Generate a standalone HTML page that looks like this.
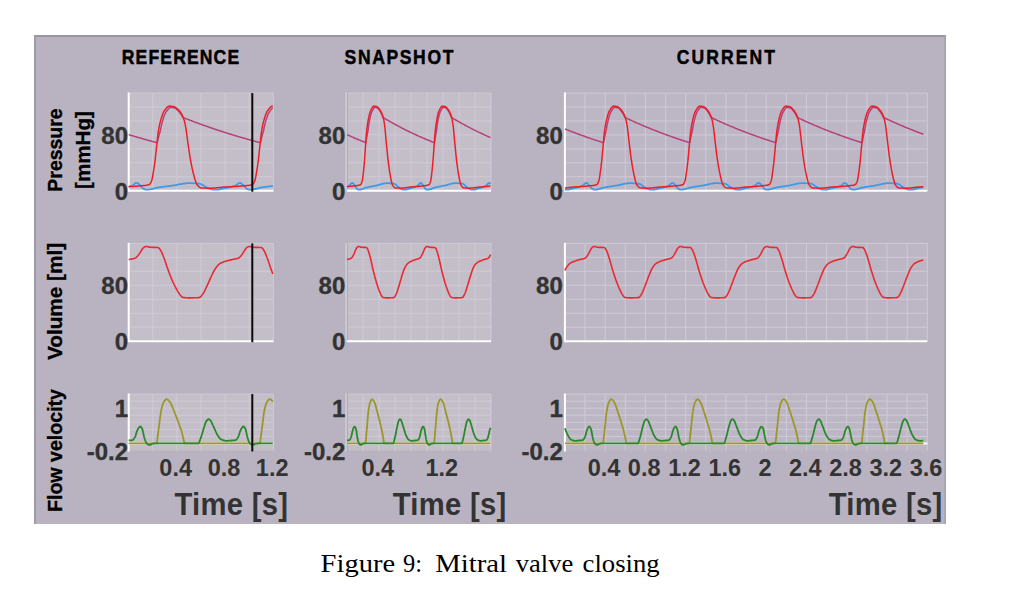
<!DOCTYPE html>
<html><head><meta charset="utf-8"><style>
html,body{margin:0;padding:0;background:#fff;width:1024px;height:595px;overflow:hidden;position:relative}
</style></head><body>
<svg width="1024" height="595" viewBox="0 0 1024 595" style="position:absolute;left:0;top:0">
<rect x="34" y="35" width="912" height="489" fill="#b9b3c1"/>
<rect x="34" y="35" width="912" height="2" fill="#9896a1"/>
<rect x="34" y="35" width="2" height="489" fill="#9e9ca7"/>
<rect x="944.5" y="35" width="1.5" height="489" fill="#a19fa9"/>
<rect x="128.7" y="93.1" width="144.7" height="97.6" fill="#c4bec9"/>
<path d="M152.8 93.1V190.7M176.9 93.1V190.7M201.0 93.1V190.7M225.2 93.1V190.7M249.3 93.1V190.7M273.4 93.1V190.7M128.7 93.1H273.4M128.7 107.0H273.4M128.7 121.0H273.4M128.7 134.9H273.4M128.7 148.9H273.4M128.7 162.8H273.4M128.7 176.8H273.4" stroke="#d0cad6" stroke-width="1" fill="none"/>
<path d="M128.7 92.5V191.7" stroke="#ffffff" stroke-width="2" fill="none"/>
<path d="M128.7 190.7H273.4" stroke="#ffffff" stroke-width="2" fill="none"/>
<polyline points="128.7,186.9 129.2,186.7 129.7,186.6 130.2,186.4 130.7,186.2 131.2,186.0 131.7,185.8 132.2,185.6 132.7,185.3 133.2,185.0 133.7,184.6 134.2,184.1 134.7,183.7 135.2,183.3 135.7,183.0 136.2,182.9 136.7,182.8 137.2,182.9 137.7,183.2 138.2,183.5 138.7,183.9 139.2,184.4 139.7,184.8 140.2,185.2 140.7,185.7 141.2,186.3 141.7,186.9 142.2,187.5 142.7,188.1 143.2,188.6 143.7,188.9 144.2,189.1 144.7,189.3 145.2,189.5 145.7,189.6 146.2,189.7 146.6,189.7 147.1,189.7 147.6,189.7 148.1,189.6 148.6,189.6 149.1,189.5 149.6,189.4 150.1,189.3 150.6,189.3 151.1,189.2 151.6,189.1 152.1,189.0 152.6,188.8 153.1,188.7 153.6,188.6 154.1,188.4 154.6,188.3 155.1,188.2 155.6,188.0 156.1,187.9 156.6,187.8 157.1,187.7 157.6,187.6 158.1,187.5 158.6,187.5 159.1,187.4 159.6,187.3 160.1,187.2 160.6,187.1 161.1,187.1 161.6,187.0 162.1,186.9 162.6,186.9 163.1,186.8 163.6,186.7 164.1,186.6 164.6,186.6 165.1,186.5 165.6,186.5 166.1,186.4 166.6,186.3 167.1,186.3 167.6,186.2 168.1,186.1 168.6,186.1 169.1,186.0 169.6,186.0 170.1,185.9 170.6,185.8 171.1,185.8 171.6,185.7 172.1,185.6 172.6,185.6 173.1,185.5 173.6,185.4 174.1,185.3 174.6,185.3 175.1,185.2 175.6,185.1 176.1,185.0 176.6,184.9 177.1,184.8 177.6,184.7 178.1,184.6 178.6,184.5 179.1,184.4 179.6,184.3 180.1,184.2 180.6,184.1 181.1,184.0 181.6,184.0 182.1,183.9 182.5,183.8 183.0,183.7 183.5,183.6 184.0,183.5 184.5,183.5 185.0,183.4 185.5,183.4 186.0,183.3 186.5,183.3 187.0,183.2 187.5,183.2 188.0,183.2 188.5,183.2 189.0,183.2 189.5,183.2 190.0,183.2 190.5,183.2 191.0,183.2 191.5,183.2 192.0,183.2 192.5,183.2 193.0,183.2 193.5,183.3 194.0,183.3 194.5,183.3 195.0,183.3 195.5,183.4 196.0,183.4 196.5,183.4 197.0,183.5 197.5,183.5 198.0,183.5 198.5,183.6 199.0,183.6 199.5,183.7 200.0,183.8 200.5,184.0 201.0,184.2 201.5,184.4 202.0,184.6 202.5,184.9 203.0,185.2 203.5,185.5 204.0,185.8 204.5,186.1 205.0,186.4 205.5,186.7 206.0,187.0 206.5,187.3 207.0,187.5 207.5,187.7 208.0,187.9 208.5,188.1 209.0,188.3 209.5,188.6 210.0,188.8 210.5,189.0 211.0,189.1 211.5,189.3 212.0,189.4 212.5,189.5 213.0,189.6 213.5,189.6 214.0,189.6 214.5,189.6 215.0,189.6 215.5,189.6 216.0,189.7 216.5,189.7 217.0,189.7 217.5,189.6 218.0,189.6 218.4,189.5 218.9,189.5 219.4,189.4 219.9,189.3 220.4,189.2 220.9,189.0 221.4,188.9 221.9,188.8 222.4,188.7 222.9,188.5 223.4,188.4 223.9,188.3 224.4,188.2 224.9,188.1 225.4,188.0 225.9,187.9 226.4,187.8 226.9,187.8 227.4,187.7 227.9,187.6 228.4,187.5 228.9,187.5 229.4,187.4 229.9,187.3 230.4,187.2 230.9,187.1 231.4,187.0 231.9,186.9 232.4,186.7 232.9,186.6 233.4,186.4 233.9,186.2 234.4,186.0 234.9,185.8 235.4,185.6 235.9,185.3 236.4,185.0 236.9,184.6 237.4,184.2 237.9,183.7 238.4,183.4 238.9,183.1 239.4,182.9 239.9,182.8 240.4,182.9 240.9,183.2 241.4,183.5 241.9,183.9 242.4,184.4 242.9,184.8 243.4,185.2 243.9,185.7 244.4,186.3 244.9,186.9 245.4,187.5 245.9,188.1 246.4,188.6 246.9,188.9 247.4,189.1 247.9,189.3 248.4,189.5 248.9,189.6 249.4,189.7 249.9,189.7 250.4,189.7 250.9,189.7 251.4,189.6 251.9,189.6 252.4,189.5 252.9,189.4 253.4,189.3 253.9,189.3 254.3,189.2 254.8,189.1 255.3,189.0 255.8,188.8 256.3,188.7 256.8,188.6 257.3,188.4 257.8,188.3 258.3,188.2 258.8,188.0 259.3,187.9 259.8,187.8 260.3,187.7 260.8,187.6 261.3,187.5 261.8,187.5 262.3,187.4 262.8,187.3 263.3,187.2 263.8,187.1 264.3,187.1 264.8,187.0 265.3,186.9 265.8,186.9 266.3,186.8 266.8,186.7 267.3,186.7 267.8,186.6 268.3,186.5 268.8,186.5 269.3,186.4 269.8,186.3 270.3,186.3 270.8,186.2 271.3,186.1 271.8,186.1 272.3,186.0 272.8,186.0" fill="none" stroke="#3d9be9" stroke-width="1.8" stroke-linejoin="round"/>
<polyline points="128.7,134.6 129.2,134.8 129.7,134.9 130.2,135.1 130.7,135.2 131.2,135.4 131.7,135.5 132.2,135.7 132.7,135.8 133.2,136.0 133.7,136.1 134.2,136.3 134.7,136.4 135.2,136.6 135.7,136.7 136.2,136.9 136.7,137.0 137.2,137.2 137.7,137.3 138.2,137.5 138.7,137.6 139.2,137.7 139.7,137.9 140.2,138.0 140.7,138.2 141.2,138.3 141.7,138.5 142.2,138.6 142.7,138.7 143.2,138.9 143.7,139.0 144.2,139.2 144.7,139.3 145.2,139.4 145.7,139.6 146.2,139.7 146.6,139.9 147.1,140.0 147.6,140.1 148.1,140.3 148.6,140.4 149.1,140.5 149.6,140.7 150.1,140.8 150.6,141.0 151.1,141.1 151.6,141.2 152.1,141.4 152.6,141.5 153.1,141.6 153.6,141.8 154.1,141.9 154.6,142.0 155.1,142.2 155.6,142.3 156.1,142.4 156.6,142.5 157.1,142.7 157.6,141.3 158.1,139.1 158.6,137.0 159.1,135.0 159.6,133.3 160.1,131.8 160.6,129.4 161.1,126.9 161.6,124.6 162.1,122.6 162.6,120.8 163.1,119.1 163.6,117.6 164.1,116.1 164.6,114.8 165.1,113.7 165.6,112.7 166.1,111.9 166.6,111.2 167.1,110.6 167.6,109.9 168.1,109.3 168.6,108.7 169.1,108.2 169.6,107.8 170.1,107.5 170.6,107.4 171.1,107.4 171.6,107.4 172.1,107.5 172.6,107.5 173.1,107.6 173.6,107.7 174.1,107.8 174.6,107.9 175.1,108.1 175.6,108.4 176.1,108.8 176.6,109.2 177.1,109.7 177.6,110.2 178.1,110.7 178.6,111.2 179.1,111.8 179.6,112.4 180.1,113.0 180.6,113.7 181.1,114.4 181.6,115.2 182.1,116.1 182.5,117.0 183.0,117.5 183.5,117.7 184.0,117.9 184.5,118.1 185.0,118.3 185.5,118.5 186.0,118.7 186.5,118.9 187.0,119.1 187.5,119.3 188.0,119.5 188.5,119.6 189.0,119.8 189.5,120.0 190.0,120.2 190.5,120.4 191.0,120.6 191.5,120.8 192.0,121.0 192.5,121.2 193.0,121.4 193.5,121.6 194.0,121.7 194.5,121.9 195.0,122.1 195.5,122.3 196.0,122.5 196.5,122.7 197.0,122.9 197.5,123.0 198.0,123.2 198.5,123.4 199.0,123.6 199.5,123.8 200.0,124.0 200.5,124.1 201.0,124.3 201.5,124.5 202.0,124.7 202.5,124.9 203.0,125.0 203.5,125.2 204.0,125.4 204.5,125.6 205.0,125.7 205.5,125.9 206.0,126.1 206.5,126.3 207.0,126.5 207.5,126.6 208.0,126.8 208.5,127.0 209.0,127.1 209.5,127.3 210.0,127.5 210.5,127.7 211.0,127.8 211.5,128.0 212.0,128.2 212.5,128.3 213.0,128.5 213.5,128.7 214.0,128.9 214.5,129.0 215.0,129.2 215.5,129.4 216.0,129.5 216.5,129.7 217.0,129.9 217.5,130.0 218.0,130.2 218.4,130.3 218.9,130.5 219.4,130.7 219.9,130.8 220.4,131.0 220.9,131.2 221.4,131.3 221.9,131.5 222.4,131.6 222.9,131.8 223.4,132.0 223.9,132.1 224.4,132.3 224.9,132.4 225.4,132.6 225.9,132.8 226.4,132.9 226.9,133.1 227.4,133.2 227.9,133.4 228.4,133.5 228.9,133.7 229.4,133.9 229.9,134.0 230.4,134.2 230.9,134.3 231.4,134.5 231.9,134.6 232.4,134.8 232.9,134.9 233.4,135.1 233.9,135.2 234.4,135.4 234.9,135.5 235.4,135.7 235.9,135.8 236.4,136.0 236.9,136.1 237.4,136.3 237.9,136.4 238.4,136.6 238.9,136.7 239.4,136.9 239.9,137.0 240.4,137.2 240.9,137.3 241.4,137.4 241.9,137.6 242.4,137.7 242.9,137.9 243.4,138.0 243.9,138.2 244.4,138.3 244.9,138.5 245.4,138.6 245.9,138.7 246.4,138.9 246.9,139.0 247.4,139.2 247.9,139.3 248.4,139.4 248.9,139.6 249.4,139.7 249.9,139.9 250.4,140.0 250.9,140.1 251.4,140.3 251.9,140.4 252.4,140.5 252.9,140.7 253.4,140.8 253.9,140.9 254.3,141.1 254.8,141.2 255.3,141.4 255.8,141.5 256.3,141.6 256.8,141.8 257.3,141.9 257.8,142.0 258.3,142.2 258.8,142.3 259.3,142.4 259.8,142.5 260.3,142.7 260.8,141.4 261.3,139.1 261.8,137.0 262.3,135.0 262.8,133.3 263.3,131.8 263.8,129.5 264.3,126.9 264.8,124.6 265.3,122.6 265.8,120.8 266.3,119.2 266.8,117.6 267.3,116.2 267.8,114.8 268.3,113.7 268.8,112.7 269.3,112.0 269.8,111.3 270.3,110.6 270.8,109.9 271.3,109.3 271.8,108.8 272.3,108.2 272.8,107.8" fill="none" stroke="#b5427a" stroke-width="1.5" stroke-linejoin="round"/>
<polyline points="128.7,186.7 129.2,186.6 129.7,186.6 130.2,186.6 130.7,186.5 131.2,186.5 131.7,186.5 132.2,186.5 132.7,186.4 133.2,186.4 133.7,186.4 134.2,186.3 134.7,186.3 135.2,186.3 135.7,186.2 136.2,186.2 136.7,186.2 137.2,186.1 137.7,186.1 138.2,186.0 138.7,186.0 139.2,186.0 139.7,185.9 140.2,185.9 140.7,185.8 141.2,185.8 141.7,185.7 142.2,185.7 142.7,185.7 143.2,185.6 143.7,185.6 144.2,185.5 144.7,185.5 145.2,185.4 145.7,185.4 146.2,185.3 146.6,185.2 147.1,185.1 147.6,185.0 148.1,184.9 148.6,184.8 149.1,184.6 149.6,184.3 150.1,183.7 150.6,182.9 151.1,182.0 151.6,180.9 152.1,179.1 152.6,176.5 153.1,173.6 153.6,170.6 154.1,167.5 154.6,164.1 155.1,160.3 155.6,155.9 156.1,151.2 156.6,146.6 157.1,142.0 157.6,137.3 158.1,133.1 158.6,129.9 159.1,127.2 159.6,124.7 160.1,122.5 160.6,120.6 161.1,118.9 161.6,117.3 162.1,115.7 162.6,114.4 163.1,113.1 163.6,112.0 164.1,111.1 164.6,110.4 165.1,109.7 165.6,109.0 166.1,108.4 166.6,107.8 167.1,107.3 167.6,106.9 168.1,106.5 168.6,106.3 169.1,106.2 169.6,106.1 170.1,106.2 170.6,106.2 171.1,106.2 171.6,106.3 172.1,106.4 172.6,106.4 173.1,106.5 173.6,106.6 174.1,106.8 174.6,107.0 175.1,107.2 175.6,107.5 176.1,107.9 176.6,108.3 177.1,108.7 177.6,109.2 178.1,109.6 178.6,110.1 179.1,110.6 179.6,111.1 180.1,111.7 180.6,112.4 181.1,113.1 181.6,113.9 182.1,114.8 182.5,115.8 183.0,116.8 183.5,118.2 184.0,119.7 184.5,121.5 185.0,123.6 185.5,125.9 186.0,128.9 186.5,132.5 187.0,136.2 187.5,140.0 188.0,143.5 188.5,146.9 189.0,150.4 189.5,153.7 190.0,156.9 190.5,159.8 191.0,162.5 191.5,165.1 192.0,167.6 192.5,169.9 193.0,172.0 193.5,174.0 194.0,175.8 194.5,177.7 195.0,179.4 195.5,181.1 196.0,182.5 196.5,183.7 197.0,184.6 197.5,185.2 198.0,185.7 198.5,186.3 199.0,186.7 199.5,187.2 200.0,187.5 200.5,187.7 201.0,187.9 201.5,187.9 202.0,188.0 202.5,188.0 203.0,188.0 203.5,188.0 204.0,188.1 204.5,188.1 205.0,188.1 205.5,188.1 206.0,188.1 206.5,188.2 207.0,188.2 207.5,188.2 208.0,188.2 208.5,188.2 209.0,188.2 209.5,188.2 210.0,188.2 210.5,188.2 211.0,188.2 211.5,188.2 212.0,188.1 212.5,188.1 213.0,188.1 213.5,188.1 214.0,188.0 214.5,188.0 215.0,188.0 215.5,187.9 216.0,187.9 216.5,187.8 217.0,187.8 217.5,187.7 218.0,187.7 218.4,187.6 218.9,187.6 219.4,187.5 219.9,187.5 220.4,187.4 220.9,187.4 221.4,187.3 221.9,187.3 222.4,187.2 222.9,187.2 223.4,187.1 223.9,187.1 224.4,187.1 224.9,187.0 225.4,187.0 225.9,186.9 226.4,186.9 226.9,186.9 227.4,186.9 227.9,186.8 228.4,186.8 228.9,186.8 229.4,186.8 229.9,186.8 230.4,186.7 230.9,186.7 231.4,186.7 231.9,186.7 232.4,186.6 232.9,186.6 233.4,186.6 233.9,186.5 234.4,186.5 234.9,186.5 235.4,186.5 235.9,186.4 236.4,186.4 236.9,186.4 237.4,186.3 237.9,186.3 238.4,186.3 238.9,186.2 239.4,186.2 239.9,186.2 240.4,186.1 240.9,186.1 241.4,186.0 241.9,186.0 242.4,186.0 242.9,185.9 243.4,185.9 243.9,185.8 244.4,185.8 244.9,185.7 245.4,185.7 245.9,185.7 246.4,185.6 246.9,185.6 247.4,185.5 247.9,185.5 248.4,185.4 248.9,185.4 249.4,185.3 249.9,185.2 250.4,185.1 250.9,185.0 251.4,184.9 251.9,184.8 252.4,184.6 252.9,184.3 253.4,183.7 253.9,182.9 254.3,182.0 254.8,180.9 255.3,179.1 255.8,176.6 256.3,173.6 256.8,170.7 257.3,167.6 257.8,164.2 258.3,160.4 258.8,156.0 259.3,151.3 259.8,146.6 260.3,142.0 260.8,137.4 261.3,133.2 261.8,130.0 262.3,127.2 262.8,124.7 263.3,122.5 263.8,120.6 264.3,118.9 264.8,117.3 265.3,115.8 265.8,114.4 266.3,113.1 266.8,112.0 267.3,111.1 267.8,110.4 268.3,109.7 268.8,109.1 269.3,108.4 269.8,107.8 270.3,107.3 270.8,106.9 271.3,106.5 271.8,106.3 272.3,106.2 272.8,106.1" fill="none" stroke="#ec1f28" stroke-width="1.5" stroke-linejoin="round"/>
<rect x="128.7" y="243.4" width="144.7" height="97.8" fill="#c4bec9"/>
<path d="M152.8 243.4V341.2M176.9 243.4V341.2M201.0 243.4V341.2M225.2 243.4V341.2M249.3 243.4V341.2M273.4 243.4V341.2M128.7 243.4H273.4M128.7 257.4H273.4M128.7 271.3H273.4M128.7 285.3H273.4M128.7 299.3H273.4M128.7 313.3H273.4M128.7 327.2H273.4" stroke="#d0cad6" stroke-width="1" fill="none"/>
<path d="M128.7 242.8V342.2" stroke="#ffffff" stroke-width="2" fill="none"/>
<path d="M128.7 341.2H273.4" stroke="#ffffff" stroke-width="2" fill="none"/>
<polyline points="128.7,259.6 129.2,259.5 129.7,259.4 130.2,259.3 130.7,259.2 131.2,259.1 131.7,259.0 132.2,258.9 132.7,258.8 133.2,258.7 133.7,258.6 134.2,258.5 134.7,258.3 135.2,258.1 135.7,257.9 136.2,257.5 136.7,257.1 137.2,256.5 137.7,255.9 138.2,255.3 138.7,254.6 139.2,253.9 139.7,253.2 140.2,252.4 140.7,251.6 141.2,250.8 141.7,250.0 142.2,249.2 142.7,248.5 143.2,247.9 143.7,247.6 144.2,247.2 144.7,246.9 145.2,246.6 145.7,246.5 146.2,246.5 146.6,246.5 147.1,246.6 147.6,246.7 148.1,246.8 148.6,246.9 149.1,247.0 149.6,247.2 150.1,247.2 150.6,247.3 151.1,247.3 151.6,247.4 152.1,247.4 152.6,247.4 153.1,247.4 153.6,247.4 154.1,247.4 154.6,247.4 155.1,247.4 155.6,247.5 156.1,247.5 156.6,247.5 157.1,247.5 157.6,247.5 158.1,247.6 158.6,247.7 159.1,248.2 159.6,248.8 160.1,249.5 160.6,250.3 161.1,251.1 161.6,252.1 162.1,253.2 162.6,254.4 163.1,255.7 163.6,257.0 164.1,258.2 164.6,259.6 165.1,261.0 165.6,262.5 166.1,264.0 166.6,265.5 167.1,267.0 167.6,268.5 168.1,269.9 168.6,271.2 169.1,272.6 169.6,273.9 170.1,275.2 170.6,276.4 171.1,277.7 171.6,278.9 172.1,280.1 172.6,281.2 173.1,282.4 173.6,283.4 174.1,284.5 174.6,285.5 175.1,286.5 175.6,287.5 176.1,288.4 176.6,289.3 177.1,290.2 177.6,291.1 178.1,291.9 178.6,292.8 179.1,293.5 179.6,294.2 180.1,294.9 180.6,295.5 181.1,296.1 181.6,296.7 182.1,297.1 182.5,297.3 183.0,297.4 183.5,297.5 184.0,297.6 184.5,297.6 185.0,297.7 185.5,297.7 186.0,297.8 186.5,297.8 187.0,297.8 187.5,297.9 188.0,297.9 188.5,297.9 189.0,297.9 189.5,297.9 190.0,297.9 190.5,297.9 191.0,297.9 191.5,297.9 192.0,297.9 192.5,297.9 193.0,297.8 193.5,297.8 194.0,297.8 194.5,297.8 195.0,297.8 195.5,297.8 196.0,297.7 196.5,297.7 197.0,297.7 197.5,297.7 198.0,297.6 198.5,297.6 199.0,297.6 199.5,297.5 200.0,297.3 200.5,296.9 201.0,296.4 201.5,295.8 202.0,295.1 202.5,294.4 203.0,293.8 203.5,293.0 204.0,292.1 204.5,291.1 205.0,290.1 205.5,289.0 206.0,288.0 206.5,286.9 207.0,285.8 207.5,284.8 208.0,283.7 208.5,282.6 209.0,281.4 209.5,280.3 210.0,279.2 210.5,278.1 211.0,277.0 211.5,276.0 212.0,275.0 212.5,273.9 213.0,272.9 213.5,271.9 214.0,270.9 214.5,270.0 215.0,269.1 215.5,268.3 216.0,267.7 216.5,267.0 217.0,266.4 217.5,265.8 218.0,265.3 218.4,264.8 218.9,264.4 219.4,264.0 219.9,263.6 220.4,263.3 220.9,263.1 221.4,262.8 221.9,262.6 222.4,262.4 222.9,262.2 223.4,262.0 223.9,261.8 224.4,261.6 224.9,261.5 225.4,261.3 225.9,261.2 226.4,261.0 226.9,260.9 227.4,260.7 227.9,260.6 228.4,260.5 228.9,260.3 229.4,260.2 229.9,260.1 230.4,260.0 230.9,259.9 231.4,259.7 231.9,259.6 232.4,259.5 232.9,259.4 233.4,259.3 233.9,259.2 234.4,259.1 234.9,259.0 235.4,258.9 235.9,258.8 236.4,258.7 236.9,258.6 237.4,258.5 237.9,258.3 238.4,258.1 238.9,257.9 239.4,257.5 239.9,257.1 240.4,256.5 240.9,255.9 241.4,255.3 241.9,254.6 242.4,254.0 242.9,253.2 243.4,252.4 243.9,251.6 244.4,250.8 244.9,250.0 245.4,249.2 245.9,248.5 246.4,248.0 246.9,247.6 247.4,247.2 247.9,246.9 248.4,246.6 248.9,246.5 249.4,246.5 249.9,246.5 250.4,246.6 250.9,246.7 251.4,246.8 251.9,246.9 252.4,247.0 252.9,247.2 253.4,247.2 253.9,247.3 254.3,247.3 254.8,247.4 255.3,247.4 255.8,247.4 256.3,247.4 256.8,247.4 257.3,247.4 257.8,247.4 258.3,247.4 258.8,247.5 259.3,247.5 259.8,247.5 260.3,247.5 260.8,247.5 261.3,247.6 261.8,247.7 262.3,248.1 262.8,248.8 263.3,249.5 263.8,250.3 264.3,251.1 264.8,252.1 265.3,253.2 265.8,254.4 266.3,255.7 266.8,257.0 267.3,258.2 267.8,259.6 268.3,261.0 268.8,262.4 269.3,263.9 269.8,265.4 270.3,267.0 270.8,268.4 271.3,269.9 271.8,271.2 272.3,272.5 272.8,273.9" fill="none" stroke="#e82a32" stroke-width="1.6" stroke-linejoin="round"/>
<rect x="128.7" y="394.1" width="144.7" height="56.4" fill="#c4bec9"/>
<path d="M152.8 394.1V450.5M176.9 394.1V450.5M201.0 394.1V450.5M225.2 394.1V450.5M249.3 394.1V450.5M273.4 394.1V450.5M128.7 394.1H273.4M128.7 401.2H273.4M128.7 408.2H273.4M128.7 415.2H273.4M128.7 422.3H273.4M128.7 429.4H273.4M128.7 436.4H273.4M128.7 443.4H273.4" stroke="#d0cad6" stroke-width="1" fill="none"/>
<path d="M128.7 393.5V451.5" stroke="#ffffff" stroke-width="2" fill="none"/>
<path d="M128.7 443.4H273.4" stroke="#ffffff" stroke-width="2" fill="none"/>
<polyline points="128.7,443.4 129.2,443.4 129.7,443.4 130.2,443.4 130.7,443.4 131.2,443.4 131.7,443.4 132.2,443.4 132.7,443.4 133.2,443.4 133.7,443.4 134.2,443.4 134.7,443.4 135.2,443.4 135.7,443.4 136.2,443.4 136.7,443.4 137.2,443.4 137.7,443.4 138.2,443.4 138.7,443.4 139.2,443.4 139.7,443.4 140.2,443.4 140.7,443.4 141.2,443.4 141.7,443.4 142.2,443.4 142.7,443.4 143.2,443.4 143.7,443.4 144.2,443.4 144.7,443.4 145.2,443.4 145.7,443.4 146.2,443.4 146.6,443.4 147.1,443.4 147.6,443.4 148.1,443.4 148.6,443.4 149.1,443.4 149.6,443.4 150.1,443.4 150.6,443.4 151.1,443.4 151.6,443.4 152.1,443.4 152.6,443.4 153.1,443.4 153.6,443.4 154.1,443.4 154.6,443.4 155.1,443.4 155.6,443.4 156.1,443.4 156.6,443.4 157.1,441.5 157.6,437.2 158.1,433.2 158.6,429.4 159.1,425.6 159.6,421.6 160.1,417.5 160.6,413.8 161.1,410.8 161.6,408.5 162.1,406.4 162.6,404.7 163.1,403.3 163.6,402.3 164.1,401.5 164.6,400.7 165.1,400.1 165.6,399.6 166.1,399.3 166.6,399.2 167.1,399.3 167.6,399.6 168.1,400.0 168.6,400.4 169.1,401.0 169.6,401.6 170.1,402.2 170.6,402.9 171.1,403.8 171.6,404.9 172.1,406.1 172.6,407.4 173.1,408.7 173.6,410.0 174.1,411.3 174.6,412.5 175.1,413.8 175.6,415.0 176.1,416.3 176.6,417.6 177.1,418.9 177.6,420.2 178.1,421.5 178.6,422.9 179.1,424.3 179.6,425.7 180.1,427.0 180.6,428.4 181.1,429.9 181.6,431.4 182.1,433.1 182.5,435.0 183.0,437.0 183.5,439.2 184.0,441.6 184.5,443.4 185.0,443.4 185.5,443.4 186.0,443.4 186.5,443.4 187.0,443.4 187.5,443.4 188.0,443.4 188.5,443.4 189.0,443.4 189.5,443.4 190.0,443.4 190.5,443.4 191.0,443.4 191.5,443.4 192.0,443.4 192.5,443.4 193.0,443.4 193.5,443.4 194.0,443.4 194.5,443.4 195.0,443.4 195.5,443.4 196.0,443.4 196.5,443.4 197.0,443.4 197.5,443.4 198.0,443.4 198.5,443.4 199.0,443.4 199.5,443.4 200.0,443.4 200.5,443.4 201.0,443.4 201.5,443.4 202.0,443.4 202.5,443.4 203.0,443.4 203.5,443.4 204.0,443.4 204.5,443.4 205.0,443.4 205.5,443.4 206.0,443.4 206.5,443.4 207.0,443.4 207.5,443.4 208.0,443.4 208.5,443.4 209.0,443.4 209.5,443.4 210.0,443.4 210.5,443.4 211.0,443.4 211.5,443.4 212.0,443.4 212.5,443.4 213.0,443.4 213.5,443.4 214.0,443.4 214.5,443.4 215.0,443.4 215.5,443.4 216.0,443.4 216.5,443.4 217.0,443.4 217.5,443.4 218.0,443.4 218.4,443.4 218.9,443.4 219.4,443.4 219.9,443.4 220.4,443.4 220.9,443.4 221.4,443.4 221.9,443.4 222.4,443.4 222.9,443.4 223.4,443.4 223.9,443.4 224.4,443.4 224.9,443.4 225.4,443.4 225.9,443.4 226.4,443.4 226.9,443.4 227.4,443.4 227.9,443.4 228.4,443.4 228.9,443.4 229.4,443.4 229.9,443.4 230.4,443.4 230.9,443.4 231.4,443.4 231.9,443.4 232.4,443.4 232.9,443.4 233.4,443.4 233.9,443.4 234.4,443.4 234.9,443.4 235.4,443.4 235.9,443.4 236.4,443.4 236.9,443.4 237.4,443.4 237.9,443.4 238.4,443.4 238.9,443.4 239.4,443.4 239.9,443.4 240.4,443.4 240.9,443.4 241.4,443.4 241.9,443.4 242.4,443.4 242.9,443.4 243.4,443.4 243.9,443.4 244.4,443.4 244.9,443.4 245.4,443.4 245.9,443.4 246.4,443.4 246.9,443.4 247.4,443.4 247.9,443.4 248.4,443.4 248.9,443.4 249.4,443.4 249.9,443.4 250.4,443.4 250.9,443.4 251.4,443.4 251.9,443.4 252.4,443.4 252.9,443.4 253.4,443.4 253.9,443.4 254.3,443.4 254.8,443.4 255.3,443.4 255.8,443.4 256.3,443.4 256.8,443.4 257.3,443.4 257.8,443.4 258.3,443.4 258.8,443.4 259.3,443.4 259.8,443.4 260.3,441.6 260.8,437.2 261.3,433.3 261.8,429.5 262.3,425.7 262.8,421.6 263.3,417.5 263.8,413.8 264.3,410.8 264.8,408.5 265.3,406.5 265.8,404.7 266.3,403.3 266.8,402.3 267.3,401.5 267.8,400.8 268.3,400.1 268.8,399.6 269.3,399.3 269.8,399.2 270.3,399.3 270.8,399.6 271.3,399.9 271.8,400.4 272.3,401.0 272.8,401.6" fill="none" stroke="#9a982c" stroke-width="1.8" stroke-linejoin="round"/>
<polyline points="128.7,440.5 129.2,440.4 129.7,440.4 130.2,440.3 130.7,440.3 131.2,440.3 131.7,440.2 132.2,440.1 132.7,440.0 133.2,439.6 133.7,439.0 134.2,438.3 134.7,437.5 135.2,436.6 135.7,435.2 136.2,433.6 136.7,432.0 137.2,430.6 137.7,429.5 138.2,428.6 138.7,427.9 139.2,427.2 139.7,426.7 140.2,426.5 140.7,426.7 141.2,427.3 141.7,428.0 142.2,428.9 142.7,430.4 143.2,432.6 143.7,435.1 144.2,437.2 144.7,438.9 145.2,440.5 145.7,441.7 146.2,442.6 146.6,443.3 147.1,443.9 147.6,444.3 148.1,444.6 148.6,444.7 149.1,444.8 149.6,444.9 150.1,444.8 150.6,444.6 151.1,444.4 151.6,444.0 152.1,443.8 152.6,443.7 153.1,443.6 153.6,443.5 154.1,443.5 154.6,443.4 155.1,443.4 155.6,443.4 156.1,443.4 156.6,443.4 157.1,443.4 157.6,443.4 158.1,443.4 158.6,443.4 159.1,443.4 159.6,443.4 160.1,443.4 160.6,443.4 161.1,443.4 161.6,443.4 162.1,443.4 162.6,443.4 163.1,443.4 163.6,443.4 164.1,443.4 164.6,443.4 165.1,443.4 165.6,443.4 166.1,443.4 166.6,443.4 167.1,443.4 167.6,443.4 168.1,443.4 168.6,443.4 169.1,443.4 169.6,443.4 170.1,443.4 170.6,443.4 171.1,443.4 171.6,443.4 172.1,443.4 172.6,443.4 173.1,443.4 173.6,443.4 174.1,443.4 174.6,443.4 175.1,443.4 175.6,443.4 176.1,443.4 176.6,443.4 177.1,443.4 177.6,443.4 178.1,443.4 178.6,443.4 179.1,443.4 179.6,443.4 180.1,443.4 180.6,443.4 181.1,443.4 181.6,443.4 182.1,443.4 182.5,443.4 183.0,443.4 183.5,443.4 184.0,443.4 184.5,443.4 185.0,443.4 185.5,443.4 186.0,443.4 186.5,443.4 187.0,443.4 187.5,443.4 188.0,443.4 188.5,443.4 189.0,443.4 189.5,443.4 190.0,443.4 190.5,443.4 191.0,443.4 191.5,443.4 192.0,443.4 192.5,443.4 193.0,443.4 193.5,443.4 194.0,443.4 194.5,443.4 195.0,443.4 195.5,443.4 196.0,443.4 196.5,443.4 197.0,443.4 197.5,443.4 198.0,443.4 198.5,443.4 199.0,442.7 199.5,441.6 200.0,440.2 200.5,438.7 201.0,437.2 201.5,435.8 202.0,434.2 202.5,432.5 203.0,430.7 203.5,429.0 204.0,427.5 204.5,426.0 205.0,424.4 205.5,422.9 206.0,421.7 206.5,420.9 207.0,420.3 207.5,419.8 208.0,419.4 208.5,419.1 209.0,419.2 209.5,419.5 210.0,420.0 210.5,420.6 211.0,421.3 211.5,422.2 212.0,423.2 212.5,424.4 213.0,425.5 213.5,426.6 214.0,427.7 214.5,428.8 215.0,429.9 215.5,431.0 216.0,432.1 216.5,433.1 217.0,434.1 217.5,435.0 218.0,435.7 218.4,436.4 218.9,437.1 219.4,437.7 219.9,438.3 220.4,438.8 220.9,439.2 221.4,439.5 221.9,439.7 222.4,439.9 222.9,440.1 223.4,440.3 223.9,440.4 224.4,440.6 224.9,440.7 225.4,440.7 225.9,440.8 226.4,440.8 226.9,440.8 227.4,440.8 227.9,440.8 228.4,440.7 228.9,440.7 229.4,440.7 229.9,440.6 230.4,440.6 230.9,440.6 231.4,440.5 231.9,440.5 232.4,440.4 232.9,440.4 233.4,440.3 233.9,440.3 234.4,440.3 234.9,440.2 235.4,440.1 235.9,440.0 236.4,439.6 236.9,439.0 237.4,438.3 237.9,437.5 238.4,436.6 238.9,435.2 239.4,433.6 239.9,432.0 240.4,430.6 240.9,429.5 241.4,428.7 241.9,427.9 242.4,427.2 242.9,426.7 243.4,426.5 243.9,426.7 244.4,427.3 244.9,428.0 245.4,428.9 245.9,430.3 246.4,432.6 246.9,435.1 247.4,437.2 247.9,438.9 248.4,440.4 248.9,441.7 249.4,442.6 249.9,443.3 250.4,443.9 250.9,444.3 251.4,444.6 251.9,444.7 252.4,444.8 252.9,444.9 253.4,444.8 253.9,444.7 254.3,444.4 254.8,444.0 255.3,443.8 255.8,443.7 256.3,443.6 256.8,443.5 257.3,443.5 257.8,443.5 258.3,443.4 258.8,443.4 259.3,443.4 259.8,443.4 260.3,443.4 260.8,443.4 261.3,443.4 261.8,443.4 262.3,443.4 262.8,443.4 263.3,443.4 263.8,443.4 264.3,443.4 264.8,443.4 265.3,443.4 265.8,443.4 266.3,443.4 266.8,443.4 267.3,443.4 267.8,443.4 268.3,443.4 268.8,443.4 269.3,443.4 269.8,443.4 270.3,443.4 270.8,443.4 271.3,443.4 271.8,443.4 272.3,443.4 272.8,443.4" fill="none" stroke="#2a882c" stroke-width="1.8" stroke-linejoin="round"/>
<path d="M252.3 93.1V191.7" stroke="#0a0a0a" stroke-width="2.0"/>
<path d="M252.3 243.4V342.2" stroke="#0a0a0a" stroke-width="2.0"/>
<path d="M252.3 394.1V451.5" stroke="#0a0a0a" stroke-width="2.0"/>
<rect x="347.0" y="93.1" width="144.0" height="97.6" fill="#c4bec9"/>
<path d="M363.0 93.1V190.7M379.0 93.1V190.7M395.0 93.1V190.7M411.0 93.1V190.7M427.0 93.1V190.7M443.0 93.1V190.7M459.0 93.1V190.7M475.0 93.1V190.7M491.0 93.1V190.7M347.0 93.1H491.0M347.0 107.0H491.0M347.0 121.0H491.0M347.0 134.9H491.0M347.0 148.9H491.0M347.0 162.8H491.0M347.0 176.8H491.0" stroke="#d0cad6" stroke-width="1" fill="none"/>
<rect x="345.6" y="92.5" width="1.2" height="99.1" fill="#dedde0"/>
<rect x="346.8" y="92.5" width="1.0" height="99.1" fill="#a9a8ae"/>
<path d="M347.0 190.7H491.0" stroke="#ffffff" stroke-width="2" fill="none"/>
<polyline points="347.0,186.9 347.5,186.7 348.0,186.4 348.5,186.1 349.0,185.8 349.5,185.5 350.0,185.0 350.5,184.3 351.0,183.7 351.5,183.2 352.0,182.9 352.5,182.9 353.0,183.2 353.5,183.8 354.0,184.4 354.5,185.1 355.0,185.8 355.5,186.7 356.0,187.6 356.5,188.4 357.0,188.9 357.5,189.2 358.0,189.5 358.5,189.7 359.0,189.7 359.5,189.7 360.0,189.6 360.5,189.5 361.0,189.4 361.5,189.3 362.0,189.2 362.5,189.0 363.0,188.8 363.5,188.6 364.0,188.4 364.5,188.2 364.9,188.0 365.4,187.8 365.9,187.7 366.4,187.6 366.9,187.4 367.4,187.3 367.9,187.2 368.4,187.1 368.9,187.0 369.4,186.9 369.9,186.8 370.4,186.7 370.9,186.6 371.4,186.5 371.9,186.4 372.4,186.3 372.9,186.2 373.4,186.1 373.9,186.0 374.4,185.9 374.9,185.8 375.4,185.7 375.9,185.6 376.4,185.5 376.9,185.4 377.4,185.3 377.9,185.1 378.4,185.0 378.9,184.9 379.4,184.7 379.9,184.6 380.4,184.4 380.9,184.3 381.4,184.1 381.9,184.0 382.4,183.9 382.9,183.7 383.4,183.6 383.9,183.5 384.4,183.4 384.9,183.3 385.4,183.3 385.9,183.2 386.4,183.2 386.9,183.2 387.4,183.2 387.9,183.2 388.4,183.2 388.9,183.2 389.4,183.2 389.9,183.3 390.4,183.3 390.9,183.3 391.4,183.4 391.9,183.4 392.4,183.5 392.9,183.5 393.4,183.6 393.9,183.6 394.4,183.8 394.9,184.1 395.4,184.4 395.9,184.8 396.4,185.3 396.9,185.7 397.4,186.2 397.9,186.7 398.4,187.1 398.9,187.4 399.4,187.7 399.9,188.1 400.4,188.4 400.9,188.7 401.3,189.0 401.8,189.3 402.3,189.5 402.8,189.6 403.3,189.6 403.8,189.6 404.3,189.6 404.8,189.6 405.3,189.7 405.8,189.6 406.3,189.6 406.8,189.5 407.3,189.3 407.8,189.2 408.3,189.0 408.8,188.8 409.3,188.6 409.8,188.4 410.3,188.3 410.8,188.1 411.3,188.0 411.8,187.8 412.3,187.7 412.8,187.6 413.3,187.5 413.8,187.4 414.3,187.2 414.8,187.1 415.3,186.9 415.8,186.7 416.3,186.5 416.8,186.2 417.3,185.9 417.8,185.6 418.3,185.2 418.8,184.6 419.3,183.9 419.8,183.3 420.3,182.9 420.8,182.8 421.3,183.1 421.8,183.6 422.3,184.2 422.8,184.9 423.3,185.5 423.8,186.4 424.3,187.3 424.8,188.2 425.3,188.8 425.8,189.1 426.3,189.4 426.8,189.6 427.3,189.7 427.8,189.7 428.3,189.7 428.8,189.6 429.3,189.5 429.8,189.3 430.3,189.2 430.8,189.0 431.3,188.9 431.8,188.7 432.3,188.5 432.8,188.3 433.3,188.1 433.8,187.9 434.3,187.7 434.8,187.6 435.3,187.5 435.8,187.3 436.3,187.2 436.8,187.1 437.2,187.0 437.7,186.9 438.2,186.8 438.7,186.7 439.2,186.6 439.7,186.5 440.2,186.4 440.7,186.3 441.2,186.2 441.7,186.1 442.2,186.0 442.7,185.9 443.2,185.8 443.7,185.7 444.2,185.6 444.7,185.5 445.2,185.4 445.7,185.3 446.2,185.2 446.7,185.1 447.2,184.9 447.7,184.8 448.2,184.6 448.7,184.5 449.2,184.3 449.7,184.2 450.2,184.0 450.7,183.9 451.2,183.8 451.7,183.7 452.2,183.5 452.7,183.4 453.2,183.4 453.7,183.3 454.2,183.2 454.7,183.2 455.2,183.2 455.7,183.2 456.2,183.2 456.7,183.2 457.2,183.2 457.7,183.2 458.2,183.3 458.7,183.3 459.2,183.3 459.7,183.4 460.2,183.4 460.7,183.4 461.2,183.5 461.7,183.5 462.2,183.6 462.7,183.8 463.2,184.0 463.7,184.3 464.2,184.7 464.7,185.1 465.2,185.6 465.7,186.0 466.2,186.5 466.7,186.9 467.2,187.3 467.7,187.6 468.2,188.0 468.7,188.3 469.2,188.6 469.7,188.9 470.2,189.2 470.7,189.4 471.2,189.5 471.7,189.6 472.2,189.6 472.6,189.6 473.1,189.6 473.6,189.7 474.1,189.6 474.6,189.6 475.1,189.5 475.6,189.4 476.1,189.2 476.6,189.1 477.1,188.9 477.6,188.7 478.1,188.5 478.6,188.3 479.1,188.2 479.6,188.0 480.1,187.9 480.6,187.8 481.1,187.6 481.6,187.5 482.1,187.4 482.6,187.3 483.1,187.1 483.6,187.0 484.1,186.8 484.6,186.6 485.1,186.3 485.6,186.0 486.1,185.7 486.6,185.3 487.1,184.8 487.6,184.1 488.1,183.5 488.6,183.0 489.1,182.8 489.6,183.0 490.1,183.4 490.6,184.0" fill="none" stroke="#3d9be9" stroke-width="1.8" stroke-linejoin="round"/>
<polyline points="347.0,134.6 347.5,134.9 348.0,135.1 348.5,135.3 349.0,135.5 349.5,135.8 350.0,136.0 350.5,136.2 351.0,136.4 351.5,136.7 352.0,136.9 352.5,137.1 353.0,137.3 353.5,137.5 354.0,137.8 354.5,138.0 355.0,138.2 355.5,138.4 356.0,138.6 356.5,138.8 357.0,139.0 357.5,139.3 358.0,139.5 358.5,139.7 359.0,139.9 359.5,140.1 360.0,140.3 360.5,140.5 361.0,140.7 361.5,140.9 362.0,141.1 362.5,141.3 363.0,141.5 363.5,141.7 364.0,141.9 364.5,142.1 364.9,142.3 365.4,142.5 365.9,142.7 366.4,139.6 366.9,136.4 367.4,133.6 367.9,131.3 368.4,127.3 368.9,123.9 369.4,121.1 369.9,118.6 370.4,116.3 370.9,114.4 371.4,112.8 371.9,111.7 372.4,110.6 372.9,109.7 373.4,108.8 373.9,108.0 374.4,107.5 374.9,107.4 375.4,107.4 375.9,107.5 376.4,107.6 376.9,107.8 377.4,107.9 377.9,108.3 378.4,108.8 378.9,109.4 379.4,110.2 379.9,111.0 380.4,111.8 380.9,112.7 381.4,113.7 381.9,114.8 382.4,116.1 382.9,117.4 383.4,117.7 383.9,118.0 384.4,118.3 384.9,118.6 385.4,118.9 385.9,119.2 386.4,119.5 386.9,119.8 387.4,120.1 387.9,120.3 388.4,120.6 388.9,120.9 389.4,121.2 389.9,121.5 390.4,121.8 390.9,122.1 391.4,122.3 391.9,122.6 392.4,122.9 392.9,123.2 393.4,123.4 393.9,123.7 394.4,124.0 394.9,124.3 395.4,124.5 395.9,124.8 396.4,125.1 396.9,125.3 397.4,125.6 397.9,125.9 398.4,126.1 398.9,126.4 399.4,126.7 399.9,126.9 400.4,127.2 400.9,127.5 401.3,127.7 401.8,128.0 402.3,128.2 402.8,128.5 403.3,128.7 403.8,129.0 404.3,129.2 404.8,129.5 405.3,129.7 405.8,130.0 406.3,130.2 406.8,130.5 407.3,130.7 407.8,131.0 408.3,131.2 408.8,131.5 409.3,131.7 409.8,132.0 410.3,132.2 410.8,132.4 411.3,132.7 411.8,132.9 412.3,133.1 412.8,133.4 413.3,133.6 413.8,133.9 414.3,134.1 414.8,134.3 415.3,134.5 415.8,134.8 416.3,135.0 416.8,135.2 417.3,135.5 417.8,135.7 418.3,135.9 418.8,136.1 419.3,136.4 419.8,136.6 420.3,136.8 420.8,137.0 421.3,137.2 421.8,137.5 422.3,137.7 422.8,137.9 423.3,138.1 423.8,138.3 424.3,138.5 424.8,138.8 425.3,139.0 425.8,139.2 426.3,139.4 426.8,139.6 427.3,139.8 427.8,140.0 428.3,140.2 428.8,140.4 429.3,140.6 429.8,140.8 430.3,141.0 430.8,141.2 431.3,141.5 431.8,141.7 432.3,141.9 432.8,142.1 433.3,142.3 433.8,142.5 434.3,142.6 434.8,140.7 435.3,137.4 435.8,134.5 436.3,132.1 436.8,128.6 437.2,125.0 437.7,122.0 438.2,119.4 438.7,117.1 439.2,115.0 439.7,113.3 440.2,112.0 440.7,111.0 441.2,110.0 441.7,109.1 442.2,108.3 442.7,107.7 443.2,107.4 443.7,107.4 444.2,107.5 444.7,107.6 445.2,107.7 445.7,107.9 446.2,108.1 446.7,108.6 447.2,109.2 447.7,109.9 448.2,110.7 448.7,111.5 449.2,112.4 449.7,113.3 450.2,114.4 450.7,115.6 451.2,117.0 451.7,117.6 452.2,117.9 452.7,118.2 453.2,118.5 453.7,118.8 454.2,119.1 454.7,119.4 455.2,119.7 455.7,120.0 456.2,120.2 456.7,120.5 457.2,120.8 457.7,121.1 458.2,121.4 458.7,121.7 459.2,122.0 459.7,122.2 460.2,122.5 460.7,122.8 461.2,123.1 461.7,123.4 462.2,123.6 462.7,123.9 463.2,124.2 463.7,124.4 464.2,124.7 464.7,125.0 465.2,125.3 465.7,125.5 466.2,125.8 466.7,126.1 467.2,126.3 467.7,126.6 468.2,126.8 468.7,127.1 469.2,127.4 469.7,127.6 470.2,127.9 470.7,128.1 471.2,128.4 471.7,128.7 472.2,128.9 472.6,129.2 473.1,129.4 473.6,129.7 474.1,129.9 474.6,130.2 475.1,130.4 475.6,130.7 476.1,130.9 476.6,131.1 477.1,131.4 477.6,131.6 478.1,131.9 478.6,132.1 479.1,132.4 479.6,132.6 480.1,132.8 480.6,133.1 481.1,133.3 481.6,133.5 482.1,133.8 482.6,134.0 483.1,134.2 483.6,134.5 484.1,134.7 484.6,134.9 485.1,135.2 485.6,135.4 486.1,135.6 486.6,135.8 487.1,136.1 487.6,136.3 488.1,136.5 488.6,136.7 489.1,136.9 489.6,137.2 490.1,137.4 490.6,137.6" fill="none" stroke="#b5427a" stroke-width="1.5" stroke-linejoin="round"/>
<polyline points="347.0,186.7 347.5,186.6 348.0,186.6 348.5,186.5 349.0,186.5 349.5,186.4 350.0,186.4 350.5,186.3 351.0,186.3 351.5,186.2 352.0,186.2 352.5,186.1 353.0,186.1 353.5,186.0 354.0,186.0 354.5,185.9 355.0,185.8 355.5,185.8 356.0,185.7 356.5,185.6 357.0,185.6 357.5,185.5 358.0,185.4 358.5,185.3 359.0,185.2 359.5,185.1 360.0,184.9 360.5,184.7 361.0,184.2 361.5,183.2 362.0,181.7 362.5,179.7 363.0,175.9 363.5,171.4 364.0,166.7 364.5,161.3 364.9,154.7 365.4,147.6 365.9,140.6 366.4,133.9 366.9,129.1 367.4,125.2 367.9,121.9 368.4,119.2 368.9,116.8 369.4,114.6 369.9,112.7 370.4,111.3 370.9,110.2 371.4,109.1 371.9,108.2 372.4,107.4 372.9,106.7 373.4,106.3 373.9,106.1 374.4,106.2 374.9,106.2 375.4,106.3 375.9,106.4 376.4,106.5 376.9,106.7 377.4,107.0 377.9,107.4 378.4,107.9 378.9,108.5 379.4,109.2 379.9,109.9 380.4,110.6 380.9,111.4 381.4,112.4 381.9,113.5 382.4,114.8 382.9,116.3 383.4,118.2 383.9,120.7 384.4,123.7 384.9,127.5 385.4,132.7 385.9,138.4 386.4,143.7 386.9,148.9 387.4,154.0 387.9,158.7 388.4,162.8 388.9,166.6 389.4,170.2 389.9,173.3 390.4,176.1 390.9,178.8 391.4,181.3 391.9,183.3 392.4,184.7 392.9,185.6 393.4,186.4 393.9,187.0 394.4,187.5 394.9,187.8 395.4,187.9 395.9,188.0 396.4,188.0 396.9,188.1 397.4,188.1 397.9,188.1 398.4,188.1 398.9,188.2 399.4,188.2 399.9,188.2 400.4,188.2 400.9,188.2 401.3,188.2 401.8,188.2 402.3,188.1 402.8,188.1 403.3,188.1 403.8,188.0 404.3,187.9 404.8,187.9 405.3,187.8 405.8,187.7 406.3,187.7 406.8,187.6 407.3,187.5 407.8,187.4 408.3,187.4 408.8,187.3 409.3,187.2 409.8,187.1 410.3,187.1 410.8,187.0 411.3,187.0 411.8,186.9 412.3,186.9 412.8,186.8 413.3,186.8 413.8,186.8 414.3,186.7 414.8,186.7 415.3,186.7 415.8,186.6 416.3,186.6 416.8,186.5 417.3,186.5 417.8,186.5 418.3,186.4 418.8,186.4 419.3,186.3 419.8,186.3 420.3,186.2 420.8,186.2 421.3,186.1 421.8,186.0 422.3,186.0 422.8,185.9 423.3,185.8 423.8,185.8 424.3,185.7 424.8,185.7 425.3,185.6 425.8,185.5 426.3,185.4 426.8,185.4 427.3,185.2 427.8,185.1 428.3,185.0 428.8,184.8 429.3,184.4 429.8,183.6 430.3,182.3 430.8,180.6 431.3,177.3 431.8,172.9 432.3,168.4 432.8,163.2 433.3,157.1 433.8,150.0 434.3,143.1 434.8,136.1 435.3,130.6 435.8,126.4 436.3,122.9 436.8,120.1 437.2,117.6 437.7,115.3 438.2,113.3 438.7,111.7 439.2,110.5 439.7,109.5 440.2,108.5 440.7,107.6 441.2,106.9 441.7,106.4 442.2,106.2 442.7,106.1 443.2,106.2 443.7,106.3 444.2,106.4 444.7,106.5 445.2,106.6 445.7,106.8 446.2,107.2 446.7,107.7 447.2,108.3 447.7,108.9 448.2,109.6 448.7,110.3 449.2,111.1 449.7,112.1 450.2,113.1 450.7,114.4 451.2,115.8 451.7,117.5 452.2,119.8 452.7,122.6 453.2,126.0 453.7,130.8 454.2,136.5 454.7,142.0 455.2,147.1 455.7,152.3 456.2,157.2 456.7,161.4 457.2,165.4 457.7,169.0 458.2,172.3 458.7,175.2 459.2,177.9 459.7,180.5 460.2,182.7 460.7,184.3 461.2,185.3 461.7,186.1 462.2,186.8 462.7,187.4 463.2,187.8 463.7,187.9 464.2,188.0 464.7,188.0 465.2,188.0 465.7,188.1 466.2,188.1 466.7,188.1 467.2,188.2 467.7,188.2 468.2,188.2 468.7,188.2 469.2,188.2 469.7,188.2 470.2,188.2 470.7,188.1 471.2,188.1 471.7,188.1 472.2,188.0 472.6,188.0 473.1,187.9 473.6,187.8 474.1,187.8 474.6,187.7 475.1,187.6 475.6,187.5 476.1,187.5 476.6,187.4 477.1,187.3 477.6,187.2 478.1,187.2 478.6,187.1 479.1,187.0 479.6,187.0 480.1,186.9 480.6,186.9 481.1,186.9 481.6,186.8 482.1,186.8 482.6,186.8 483.1,186.7 483.6,186.7 484.1,186.6 484.6,186.6 485.1,186.6 485.6,186.5 486.1,186.5 486.6,186.4 487.1,186.4 487.6,186.3 488.1,186.3 488.6,186.2 489.1,186.2 489.6,186.1 490.1,186.1 490.6,186.0" fill="none" stroke="#ec1f28" stroke-width="1.5" stroke-linejoin="round"/>
<rect x="347.0" y="243.4" width="144.0" height="97.8" fill="#c4bec9"/>
<path d="M363.0 243.4V341.2M379.0 243.4V341.2M395.0 243.4V341.2M411.0 243.4V341.2M427.0 243.4V341.2M443.0 243.4V341.2M459.0 243.4V341.2M475.0 243.4V341.2M491.0 243.4V341.2M347.0 243.4H491.0M347.0 257.4H491.0M347.0 271.3H491.0M347.0 285.3H491.0M347.0 299.3H491.0M347.0 313.3H491.0M347.0 327.2H491.0" stroke="#d0cad6" stroke-width="1" fill="none"/>
<rect x="345.6" y="242.8" width="1.2" height="99.3" fill="#dedde0"/>
<rect x="346.8" y="242.8" width="1.0" height="99.3" fill="#a9a8ae"/>
<path d="M347.0 341.2H491.0" stroke="#ffffff" stroke-width="2" fill="none"/>
<polyline points="347.0,259.6 347.5,259.4 348.0,259.3 348.5,259.1 349.0,259.0 349.5,258.9 350.0,258.7 350.5,258.5 351.0,258.3 351.5,258.0 352.0,257.5 352.5,256.8 353.0,255.9 353.5,254.9 354.0,253.9 354.5,252.7 355.0,251.5 355.5,250.3 356.0,249.1 356.5,248.1 357.0,247.5 357.5,247.0 358.0,246.6 358.5,246.5 359.0,246.5 359.5,246.7 360.0,246.8 360.5,247.0 361.0,247.2 361.5,247.3 362.0,247.3 362.5,247.4 363.0,247.4 363.5,247.4 364.0,247.4 364.5,247.4 364.9,247.5 365.4,247.5 365.9,247.5 366.4,247.6 366.9,247.8 367.4,248.6 367.9,249.8 368.4,251.0 368.9,252.5 369.4,254.2 369.9,256.1 370.4,258.0 370.9,260.1 371.4,262.2 371.9,264.5 372.4,266.8 372.9,269.0 373.4,271.1 373.9,273.1 374.4,275.0 374.9,277.0 375.4,278.8 375.9,280.6 376.4,282.3 376.9,283.9 377.4,285.5 377.9,287.0 378.4,288.4 378.9,289.8 379.4,291.1 379.9,292.3 380.4,293.5 380.9,294.6 381.4,295.5 381.9,296.4 382.4,297.1 382.9,297.4 383.4,297.5 383.9,297.6 384.4,297.7 384.9,297.8 385.4,297.8 385.9,297.9 386.4,297.9 386.9,297.9 387.4,297.9 387.9,297.9 388.4,297.9 388.9,297.9 389.4,297.9 389.9,297.8 390.4,297.8 390.9,297.8 391.4,297.8 391.9,297.7 392.4,297.7 392.9,297.6 393.4,297.6 393.9,297.5 394.4,297.3 394.9,296.6 395.4,295.7 395.9,294.6 396.4,293.6 396.9,292.3 397.4,290.9 397.9,289.3 398.4,287.7 398.9,286.1 399.4,284.5 399.9,282.8 400.4,281.1 400.9,279.4 401.3,277.8 401.8,276.2 402.3,274.6 402.8,273.1 403.3,271.6 403.8,270.1 404.3,268.8 404.8,267.8 405.3,266.8 405.8,265.9 406.3,265.1 406.8,264.4 407.3,263.8 407.8,263.4 408.3,263.0 408.8,262.6 409.3,262.3 409.8,262.0 410.3,261.7 410.8,261.5 411.3,261.2 411.8,261.0 412.3,260.8 412.8,260.6 413.3,260.4 413.8,260.2 414.3,260.0 414.8,259.9 415.3,259.7 415.8,259.5 416.3,259.3 416.8,259.2 417.3,259.1 417.8,258.9 418.3,258.8 418.8,258.6 419.3,258.4 419.8,258.1 420.3,257.7 420.8,257.0 421.3,256.2 421.8,255.2 422.3,254.2 422.8,253.1 423.3,251.9 423.8,250.7 424.3,249.5 424.8,248.4 425.3,247.7 425.8,247.1 426.3,246.7 426.8,246.5 427.3,246.5 427.8,246.6 428.3,246.8 428.8,246.9 429.3,247.1 429.8,247.3 430.3,247.3 430.8,247.4 431.3,247.4 431.8,247.4 432.3,247.4 432.8,247.4 433.3,247.5 433.8,247.5 434.3,247.5 434.8,247.6 435.3,247.7 435.8,248.3 436.3,249.4 436.8,250.5 437.2,251.9 437.7,253.6 438.2,255.5 438.7,257.4 439.2,259.4 439.7,261.5 440.2,263.7 440.7,266.0 441.2,268.3 441.7,270.4 442.2,272.4 442.7,274.4 443.2,276.3 443.7,278.2 444.2,280.0 444.7,281.7 445.2,283.4 445.7,284.9 446.2,286.5 446.7,287.9 447.2,289.3 447.7,290.6 448.2,291.9 448.7,293.1 449.2,294.2 449.7,295.2 450.2,296.1 450.7,296.9 451.2,297.3 451.7,297.4 452.2,297.6 452.7,297.7 453.2,297.7 453.7,297.8 454.2,297.8 454.7,297.9 455.2,297.9 455.7,297.9 456.2,297.9 456.7,297.9 457.2,297.9 457.7,297.9 458.2,297.8 458.7,297.8 459.2,297.8 459.7,297.8 460.2,297.7 460.7,297.7 461.2,297.7 461.7,297.6 462.2,297.6 462.7,297.4 463.2,296.8 463.7,296.0 464.2,295.0 464.7,294.0 465.2,292.8 465.7,291.4 466.2,289.9 466.7,288.2 467.2,286.6 467.7,285.0 468.2,283.4 468.7,281.7 469.2,280.0 469.7,278.3 470.2,276.7 470.7,275.2 471.2,273.6 471.7,272.1 472.2,270.6 472.6,269.3 473.1,268.1 473.6,267.1 474.1,266.2 474.6,265.4 475.1,264.6 475.6,264.0 476.1,263.5 476.6,263.1 477.1,262.7 477.6,262.4 478.1,262.1 478.6,261.8 479.1,261.6 479.6,261.3 480.1,261.1 480.6,260.9 481.1,260.7 481.6,260.5 482.1,260.3 482.6,260.1 483.1,259.9 483.6,259.7 484.1,259.5 484.6,259.4 485.1,259.2 485.6,259.1 486.1,259.0 486.6,258.8 487.1,258.7 487.6,258.4 488.1,258.2 488.6,257.9 489.1,257.3 489.6,256.5 490.1,255.5 490.6,254.6" fill="none" stroke="#e82a32" stroke-width="1.6" stroke-linejoin="round"/>
<rect x="347.0" y="394.1" width="144.0" height="56.4" fill="#c4bec9"/>
<path d="M363.0 394.1V450.5M379.0 394.1V450.5M395.0 394.1V450.5M411.0 394.1V450.5M427.0 394.1V450.5M443.0 394.1V450.5M459.0 394.1V450.5M475.0 394.1V450.5M491.0 394.1V450.5M347.0 394.1H491.0M347.0 401.2H491.0M347.0 408.2H491.0M347.0 415.2H491.0M347.0 422.3H491.0M347.0 429.4H491.0M347.0 436.4H491.0M347.0 443.4H491.0" stroke="#d0cad6" stroke-width="1" fill="none"/>
<rect x="345.6" y="393.5" width="1.2" height="57.9" fill="#dedde0"/>
<rect x="346.8" y="393.5" width="1.0" height="57.9" fill="#a9a8ae"/>
<path d="M347.0 443.4H491.0" stroke="#ffffff" stroke-width="2" fill="none"/>
<polyline points="347.0,443.4 347.5,443.4 348.0,443.4 348.5,443.4 349.0,443.4 349.5,443.4 350.0,443.4 350.5,443.4 351.0,443.4 351.5,443.4 352.0,443.4 352.5,443.4 353.0,443.4 353.5,443.4 354.0,443.4 354.5,443.4 355.0,443.4 355.5,443.4 356.0,443.4 356.5,443.4 357.0,443.4 357.5,443.4 358.0,443.4 358.5,443.4 359.0,443.4 359.5,443.4 360.0,443.4 360.5,443.4 361.0,443.4 361.5,443.4 362.0,443.4 362.5,443.4 363.0,443.4 363.5,443.4 364.0,443.4 364.5,443.4 364.9,443.4 365.4,443.4 365.9,440.3 366.4,434.0 366.9,428.3 367.4,422.4 367.9,416.3 368.4,411.3 368.9,407.8 369.4,405.0 369.9,402.9 370.4,401.6 370.9,400.5 371.4,399.7 371.9,399.3 372.4,399.3 372.9,399.7 373.4,400.4 373.9,401.2 374.4,402.2 374.9,403.3 375.4,404.8 375.9,406.6 376.4,408.6 376.9,410.6 377.4,412.5 377.9,414.3 378.4,416.2 378.9,418.2 379.4,420.2 379.9,422.2 380.4,424.3 380.9,426.3 381.4,428.5 381.9,430.7 382.4,433.2 382.9,436.0 383.4,439.2 383.9,442.9 384.4,443.4 384.9,443.4 385.4,443.4 385.9,443.4 386.4,443.4 386.9,443.4 387.4,443.4 387.9,443.4 388.4,443.4 388.9,443.4 389.4,443.4 389.9,443.4 390.4,443.4 390.9,443.4 391.4,443.4 391.9,443.4 392.4,443.4 392.9,443.4 393.4,443.4 393.9,443.4 394.4,443.4 394.9,443.4 395.4,443.4 395.9,443.4 396.4,443.4 396.9,443.4 397.4,443.4 397.9,443.4 398.4,443.4 398.9,443.4 399.4,443.4 399.9,443.4 400.4,443.4 400.9,443.4 401.3,443.4 401.8,443.4 402.3,443.4 402.8,443.4 403.3,443.4 403.8,443.4 404.3,443.4 404.8,443.4 405.3,443.4 405.8,443.4 406.3,443.4 406.8,443.4 407.3,443.4 407.8,443.4 408.3,443.4 408.8,443.4 409.3,443.4 409.8,443.4 410.3,443.4 410.8,443.4 411.3,443.4 411.8,443.4 412.3,443.4 412.8,443.4 413.3,443.4 413.8,443.4 414.3,443.4 414.8,443.4 415.3,443.4 415.8,443.4 416.3,443.4 416.8,443.4 417.3,443.4 417.8,443.4 418.3,443.4 418.8,443.4 419.3,443.4 419.8,443.4 420.3,443.4 420.8,443.4 421.3,443.4 421.8,443.4 422.3,443.4 422.8,443.4 423.3,443.4 423.8,443.4 424.3,443.4 424.8,443.4 425.3,443.4 425.8,443.4 426.3,443.4 426.8,443.4 427.3,443.4 427.8,443.4 428.3,443.4 428.8,443.4 429.3,443.4 429.8,443.4 430.3,443.4 430.8,443.4 431.3,443.4 431.8,443.4 432.3,443.4 432.8,443.4 433.3,443.4 433.8,443.4 434.3,442.6 434.8,436.1 435.3,430.2 435.8,424.5 436.3,418.3 436.8,412.8 437.2,408.9 437.7,405.9 438.2,403.5 438.7,402.0 439.2,400.9 439.7,399.9 440.2,399.3 440.7,399.2 441.2,399.5 441.7,400.1 442.2,400.9 442.7,401.8 443.2,402.8 443.7,404.2 444.2,406.0 444.7,407.9 445.2,409.9 445.7,411.8 446.2,413.7 446.7,415.6 447.2,417.5 447.7,419.5 448.2,421.5 448.7,423.5 449.2,425.6 449.7,427.7 450.2,429.9 450.7,432.3 451.2,435.0 451.7,438.1 452.2,441.6 452.7,443.4 453.2,443.4 453.7,443.4 454.2,443.4 454.7,443.4 455.2,443.4 455.7,443.4 456.2,443.4 456.7,443.4 457.2,443.4 457.7,443.4 458.2,443.4 458.7,443.4 459.2,443.4 459.7,443.4 460.2,443.4 460.7,443.4 461.2,443.4 461.7,443.4 462.2,443.4 462.7,443.4 463.2,443.4 463.7,443.4 464.2,443.4 464.7,443.4 465.2,443.4 465.7,443.4 466.2,443.4 466.7,443.4 467.2,443.4 467.7,443.4 468.2,443.4 468.7,443.4 469.2,443.4 469.7,443.4 470.2,443.4 470.7,443.4 471.2,443.4 471.7,443.4 472.2,443.4 472.6,443.4 473.1,443.4 473.6,443.4 474.1,443.4 474.6,443.4 475.1,443.4 475.6,443.4 476.1,443.4 476.6,443.4 477.1,443.4 477.6,443.4 478.1,443.4 478.6,443.4 479.1,443.4 479.6,443.4 480.1,443.4 480.6,443.4 481.1,443.4 481.6,443.4 482.1,443.4 482.6,443.4 483.1,443.4 483.6,443.4 484.1,443.4 484.6,443.4 485.1,443.4 485.6,443.4 486.1,443.4 486.6,443.4 487.1,443.4 487.6,443.4 488.1,443.4 488.6,443.4 489.1,443.4 489.6,443.4 490.1,443.4 490.6,443.4" fill="none" stroke="#9a982c" stroke-width="1.8" stroke-linejoin="round"/>
<polyline points="347.0,440.5 347.5,440.4 348.0,440.3 348.5,440.3 349.0,440.2 349.5,440.1 350.0,439.5 350.5,438.6 351.0,437.5 351.5,435.8 352.0,433.5 352.5,431.1 353.0,429.4 353.5,428.2 354.0,427.1 354.5,426.6 355.0,426.8 355.5,427.7 356.0,429.0 356.5,431.7 357.0,435.4 357.5,438.3 358.0,440.7 358.5,442.3 359.0,443.4 359.5,444.2 360.0,444.6 360.5,444.8 361.0,444.9 361.5,444.7 362.0,444.3 362.5,443.9 363.0,443.7 363.5,443.5 364.0,443.5 364.5,443.4 364.9,443.4 365.4,443.4 365.9,443.4 366.4,443.4 366.9,443.4 367.4,443.4 367.9,443.4 368.4,443.4 368.9,443.4 369.4,443.4 369.9,443.4 370.4,443.4 370.9,443.4 371.4,443.4 371.9,443.4 372.4,443.4 372.9,443.4 373.4,443.4 373.9,443.4 374.4,443.4 374.9,443.4 375.4,443.4 375.9,443.4 376.4,443.4 376.9,443.4 377.4,443.4 377.9,443.4 378.4,443.4 378.9,443.4 379.4,443.4 379.9,443.4 380.4,443.4 380.9,443.4 381.4,443.4 381.9,443.4 382.4,443.4 382.9,443.4 383.4,443.4 383.9,443.4 384.4,443.4 384.9,443.4 385.4,443.4 385.9,443.4 386.4,443.4 386.9,443.4 387.4,443.4 387.9,443.4 388.4,443.4 388.9,443.4 389.4,443.4 389.9,443.4 390.4,443.4 390.9,443.4 391.4,443.4 391.9,443.4 392.4,443.4 392.9,443.4 393.4,443.3 393.9,442.0 394.4,439.9 394.9,437.7 395.4,435.5 395.9,433.0 396.4,430.3 396.9,427.9 397.4,425.6 397.9,423.3 398.4,421.5 398.9,420.4 399.4,419.6 399.9,419.2 400.4,419.3 400.9,419.9 401.3,420.8 401.8,422.0 402.3,423.6 402.8,425.3 403.3,426.9 403.8,428.6 404.3,430.3 404.8,431.9 405.3,433.5 405.8,434.9 406.3,436.0 406.8,437.0 407.3,437.9 407.8,438.8 408.3,439.4 408.8,439.7 409.3,440.0 409.8,440.3 410.3,440.5 410.8,440.7 411.3,440.8 411.8,440.8 412.3,440.8 412.8,440.8 413.3,440.7 413.8,440.7 414.3,440.6 414.8,440.6 415.3,440.5 415.8,440.4 416.3,440.4 416.8,440.3 417.3,440.2 417.8,440.1 418.3,439.8 418.8,439.0 419.3,437.9 419.8,436.5 420.3,434.3 420.8,431.9 421.3,429.9 421.8,428.6 422.3,427.4 422.8,426.7 423.3,426.6 423.8,427.3 424.3,428.6 424.8,430.6 425.3,434.2 425.8,437.4 426.3,439.9 426.8,441.9 427.3,443.1 427.8,444.0 428.3,444.5 428.8,444.7 429.3,444.8 429.8,444.8 430.3,444.4 430.8,444.0 431.3,443.7 431.8,443.6 432.3,443.5 432.8,443.4 433.3,443.4 433.8,443.4 434.3,443.4 434.8,443.4 435.3,443.4 435.8,443.4 436.3,443.4 436.8,443.4 437.2,443.4 437.7,443.4 438.2,443.4 438.7,443.4 439.2,443.4 439.7,443.4 440.2,443.4 440.7,443.4 441.2,443.4 441.7,443.4 442.2,443.4 442.7,443.4 443.2,443.4 443.7,443.4 444.2,443.4 444.7,443.4 445.2,443.4 445.7,443.4 446.2,443.4 446.7,443.4 447.2,443.4 447.7,443.4 448.2,443.4 448.7,443.4 449.2,443.4 449.7,443.4 450.2,443.4 450.7,443.4 451.2,443.4 451.7,443.4 452.2,443.4 452.7,443.4 453.2,443.4 453.7,443.4 454.2,443.4 454.7,443.4 455.2,443.4 455.7,443.4 456.2,443.4 456.7,443.4 457.2,443.4 457.7,443.4 458.2,443.4 458.7,443.4 459.2,443.4 459.7,443.4 460.2,443.4 460.7,443.4 461.2,443.4 461.7,443.4 462.2,442.6 462.7,440.7 463.2,438.4 463.7,436.3 464.2,433.9 464.7,431.2 465.2,428.7 465.7,426.4 466.2,424.1 466.7,422.0 467.2,420.7 467.7,419.9 468.2,419.3 468.7,419.2 469.2,419.6 469.7,420.5 470.2,421.5 470.7,423.0 471.2,424.8 471.7,426.4 472.2,428.0 472.6,429.7 473.1,431.4 473.6,433.0 474.1,434.4 474.6,435.6 475.1,436.7 475.6,437.6 476.1,438.5 476.6,439.2 477.1,439.6 477.6,439.9 478.1,440.2 478.6,440.4 479.1,440.6 479.6,440.7 480.1,440.8 480.6,440.8 481.1,440.8 481.6,440.7 482.1,440.7 482.6,440.6 483.1,440.6 483.6,440.5 484.1,440.4 484.6,440.4 485.1,440.3 485.6,440.3 486.1,440.2 486.6,440.0 487.1,439.3 487.6,438.3 488.1,437.1 488.6,435.1 489.1,432.7 489.6,430.5 490.1,429.0 490.6,427.8" fill="none" stroke="#2a882c" stroke-width="1.8" stroke-linejoin="round"/>
<rect x="564.9" y="93.1" width="362.4" height="97.6" fill="#bdb7c5"/>
<path d="M585.0 93.1V190.7M605.2 93.1V190.7M625.3 93.1V190.7M645.4 93.1V190.7M665.6 93.1V190.7M685.7 93.1V190.7M705.8 93.1V190.7M726.0 93.1V190.7M746.1 93.1V190.7M766.2 93.1V190.7M786.4 93.1V190.7M806.5 93.1V190.7M826.6 93.1V190.7M846.8 93.1V190.7M866.9 93.1V190.7M887.0 93.1V190.7M907.2 93.1V190.7M927.3 93.1V190.7M564.9 93.1H927.3M564.9 107.0H927.3M564.9 121.0H927.3M564.9 134.9H927.3M564.9 148.9H927.3M564.9 162.8H927.3M564.9 176.8H927.3" stroke="#d0cad6" stroke-width="1" fill="none"/>
<path d="M564.9 92.5V191.7" stroke="#ffffff" stroke-width="2" fill="none"/>
<path d="M564.9 190.7H927.3" stroke="#ffffff" stroke-width="2" fill="none"/>
<polyline points="564.9,189.6 565.4,189.6 565.9,189.6 566.4,189.7 566.9,189.7 567.4,189.6 567.9,189.6 568.4,189.5 568.9,189.5 569.4,189.3 569.9,189.2 570.4,189.1 570.9,188.9 571.4,188.8 571.9,188.6 572.4,188.5 572.9,188.3 573.4,188.2 573.9,188.1 574.4,188.0 574.9,187.9 575.4,187.8 575.9,187.7 576.4,187.6 576.9,187.5 577.4,187.4 577.9,187.3 578.4,187.2 578.9,187.1 579.4,187.0 579.9,186.8 580.4,186.6 580.9,186.4 581.4,186.2 581.9,186.0 582.4,185.7 582.9,185.4 583.4,185.0 583.9,184.5 584.4,184.0 584.9,183.5 585.4,183.1 585.9,182.9 586.4,182.8 586.9,183.0 587.4,183.3 587.9,183.8 588.4,184.3 588.9,184.9 589.4,185.4 589.9,186.0 590.4,186.7 590.9,187.5 591.4,188.2 591.9,188.7 592.4,189.0 592.9,189.2 593.4,189.4 593.9,189.6 594.4,189.7 594.9,189.7 595.4,189.7 595.9,189.6 596.4,189.6 596.9,189.5 597.4,189.4 597.9,189.3 598.4,189.2 598.9,189.1 599.4,188.9 599.9,188.8 600.4,188.6 600.9,188.4 601.4,188.3 601.9,188.1 602.4,188.0 602.9,187.8 603.4,187.7 603.9,187.6 604.4,187.5 604.9,187.4 605.4,187.3 605.9,187.2 606.4,187.1 606.9,187.0 607.4,187.0 607.9,186.9 608.4,186.8 608.9,186.7 609.4,186.6 609.9,186.6 610.4,186.5 610.9,186.4 611.4,186.3 611.9,186.2 612.4,186.2 612.9,186.1 613.4,186.0 613.9,185.9 614.4,185.9 614.9,185.8 615.4,185.7 615.9,185.6 616.4,185.5 616.9,185.5 617.4,185.4 617.9,185.3 618.4,185.2 618.9,185.1 619.4,185.0 619.9,184.9 620.4,184.8 620.9,184.6 621.4,184.5 621.9,184.4 622.4,184.3 622.9,184.2 623.4,184.1 623.9,183.9 624.4,183.8 624.9,183.7 625.4,183.6 625.9,183.5 626.4,183.5 626.9,183.4 627.4,183.3 627.9,183.3 628.4,183.2 628.9,183.2 629.4,183.2 629.9,183.2 630.4,183.2 630.9,183.2 631.4,183.2 631.9,183.2 632.4,183.2 632.9,183.2 633.4,183.2 633.9,183.3 634.4,183.3 634.9,183.3 635.4,183.4 635.9,183.4 636.4,183.4 636.9,183.5 637.4,183.5 637.9,183.6 638.4,183.6 638.9,183.7 639.4,183.9 639.9,184.1 640.4,184.3 640.9,184.6 641.4,185.0 641.9,185.3 642.4,185.7 642.9,186.1 643.4,186.4 643.9,186.8 644.4,187.1 644.9,187.4 645.4,187.7 645.9,187.9 646.4,188.2 646.9,188.4 647.4,188.7 647.9,188.9 648.4,189.1 648.9,189.3 649.4,189.5 649.9,189.6 650.4,189.6 650.9,189.6 651.4,189.6 651.9,189.6 652.4,189.6 652.9,189.7 653.4,189.7 653.9,189.6 654.4,189.6 654.9,189.5 655.4,189.4 655.9,189.3 656.4,189.1 656.9,189.0 657.4,188.9 657.9,188.7 658.4,188.5 658.9,188.4 659.4,188.3 659.9,188.1 660.4,188.0 660.9,187.9 661.4,187.8 661.9,187.7 662.4,187.6 662.9,187.5 663.4,187.5 663.9,187.4 664.4,187.2 664.9,187.1 665.4,187.0 665.9,186.9 666.4,186.7 666.9,186.5 667.4,186.3 667.9,186.1 668.4,185.8 668.9,185.6 669.4,185.2 669.9,184.7 670.4,184.2 670.9,183.7 671.4,183.3 671.9,183.0 672.4,182.8 672.9,182.9 673.4,183.2 673.9,183.6 674.4,184.1 674.9,184.6 675.4,185.2 675.9,185.7 676.4,186.4 676.9,187.2 677.4,187.9 677.9,188.5 678.4,188.9 678.9,189.1 679.4,189.4 679.9,189.5 680.4,189.7 680.9,189.7 681.4,189.7 681.9,189.7 682.4,189.6 682.9,189.5 683.4,189.4 683.9,189.3 684.4,189.2 684.9,189.1 685.4,189.0 685.9,188.8 686.4,188.7 686.9,188.5 687.4,188.3 687.9,188.2 688.4,188.0 688.9,187.9 689.4,187.8 689.9,187.7 690.4,187.6 690.9,187.5 691.4,187.4 691.9,187.3 692.4,187.2 692.9,187.1 693.4,187.0 693.9,186.9 694.4,186.8 694.9,186.7 695.4,186.7 695.9,186.6 696.4,186.5 696.9,186.4 697.4,186.4 697.9,186.3 698.4,186.2 698.9,186.1 699.4,186.1 699.9,186.0 700.4,185.9 700.9,185.8 701.4,185.7 701.9,185.7 702.4,185.6 702.9,185.5 703.4,185.4 703.9,185.3 704.4,185.2 704.9,185.1 705.4,185.0 705.9,184.9 706.4,184.8 706.8,184.7 707.3,184.6 707.8,184.4 708.3,184.3 708.8,184.2 709.3,184.1 709.8,184.0 710.3,183.9 710.8,183.8 711.3,183.7 711.8,183.6 712.3,183.5 712.8,183.4 713.3,183.4 713.8,183.3 714.3,183.2 714.8,183.2 715.3,183.2 715.8,183.2 716.3,183.2 716.8,183.2 717.3,183.2 717.8,183.2 718.3,183.2 718.8,183.2 719.3,183.2 719.8,183.3 720.3,183.3 720.8,183.3 721.3,183.3 721.8,183.4 722.3,183.4 722.8,183.5 723.3,183.5 723.8,183.5 724.3,183.6 724.8,183.6 725.3,183.8 725.8,184.0 726.3,184.2 726.8,184.5 727.3,184.8 727.8,185.2 728.3,185.5 728.8,185.9 729.3,186.3 729.8,186.6 730.3,187.0 730.8,187.3 731.3,187.6 731.8,187.8 732.3,188.1 732.8,188.3 733.3,188.6 733.8,188.8 734.3,189.1 734.8,189.3 735.3,189.4 735.8,189.5 736.3,189.6 736.8,189.6 737.3,189.6 737.8,189.6 738.3,189.6 738.8,189.7 739.3,189.7 739.8,189.6 740.3,189.6 740.8,189.5 741.3,189.4 741.8,189.3 742.3,189.2 742.8,189.1 743.3,188.9 743.8,188.8 744.3,188.6 744.8,188.5 745.3,188.3 745.8,188.2 746.3,188.1 746.8,188.0 747.3,187.9 747.8,187.8 748.3,187.7 748.8,187.6 749.3,187.5 749.8,187.4 750.3,187.3 750.8,187.2 751.3,187.1 751.8,186.9 752.3,186.8 752.8,186.6 753.3,186.4 753.8,186.2 754.3,185.9 754.8,185.7 755.3,185.4 755.8,184.9 756.3,184.4 756.8,183.9 757.3,183.4 757.8,183.1 758.3,182.9 758.8,182.9 759.3,183.1 759.8,183.4 760.3,183.9 760.8,184.4 761.3,185.0 761.8,185.5 762.3,186.1 762.8,186.9 763.3,187.6 763.8,188.3 764.3,188.8 764.8,189.1 765.3,189.3 765.8,189.5 766.3,189.6 766.8,189.7 767.3,189.7 767.8,189.7 768.3,189.6 768.8,189.6 769.3,189.5 769.8,189.4 770.3,189.3 770.8,189.2 771.3,189.0 771.8,188.9 772.3,188.7 772.8,188.6 773.3,188.4 773.8,188.2 774.3,188.1 774.8,187.9 775.3,187.8 775.8,187.7 776.3,187.6 776.8,187.5 777.3,187.4 777.8,187.3 778.3,187.2 778.8,187.1 779.3,187.0 779.8,186.9 780.3,186.9 780.8,186.8 781.3,186.7 781.8,186.6 782.3,186.5 782.8,186.5 783.3,186.4 783.8,186.3 784.3,186.2 784.8,186.2 785.3,186.1 785.8,186.0 786.3,185.9 786.8,185.9 787.3,185.8 787.8,185.7 788.3,185.6 788.8,185.5 789.3,185.4 789.8,185.4 790.3,185.3 790.8,185.2 791.3,185.1 791.8,185.0 792.3,184.8 792.8,184.7 793.3,184.6 793.8,184.5 794.3,184.4 794.8,184.3 795.3,184.1 795.8,184.0 796.3,183.9 796.8,183.8 797.3,183.7 797.8,183.6 798.3,183.5 798.8,183.4 799.3,183.4 799.8,183.3 800.3,183.3 800.8,183.2 801.3,183.2 801.8,183.2 802.3,183.2 802.8,183.2 803.3,183.2 803.8,183.2 804.3,183.2 804.8,183.2 805.3,183.2 805.8,183.3 806.3,183.3 806.8,183.3 807.3,183.3 807.8,183.4 808.3,183.4 808.8,183.4 809.3,183.5 809.8,183.5 810.3,183.6 810.8,183.6 811.3,183.7 811.8,183.9 812.3,184.1 812.8,184.4 813.3,184.7 813.8,185.0 814.3,185.4 814.8,185.8 815.3,186.1 815.8,186.5 816.3,186.8 816.8,187.2 817.3,187.4 817.8,187.7 818.3,187.9 818.8,188.2 819.3,188.5 819.8,188.7 820.3,189.0 820.8,189.2 821.3,189.4 821.8,189.5 822.3,189.6 822.8,189.6 823.3,189.6 823.8,189.6 824.3,189.6 824.8,189.6 825.3,189.7 825.8,189.6 826.3,189.6 826.8,189.6 827.3,189.5 827.8,189.4 828.3,189.2 828.8,189.1 829.3,189.0 829.8,188.8 830.3,188.7 830.8,188.5 831.3,188.4 831.8,188.2 832.3,188.1 832.8,188.0 833.3,187.9 833.8,187.8 834.3,187.7 834.8,187.6 835.3,187.5 835.8,187.4 836.3,187.3 836.8,187.2 837.3,187.1 837.8,187.0 838.3,186.8 838.8,186.7 839.3,186.5 839.8,186.3 840.3,186.0 840.8,185.8 841.3,185.5 841.8,185.1 842.3,184.7 842.8,184.1 843.3,183.6 843.8,183.2 844.3,182.9 844.8,182.8 845.3,183.0 845.8,183.3 846.3,183.7 846.8,184.2 847.3,184.7 847.8,185.3 848.3,185.9 848.8,186.6 849.3,187.3 849.8,188.0 850.3,188.6 850.8,189.0 851.3,189.2 851.8,189.4 852.3,189.6 852.8,189.7 853.3,189.7 853.8,189.7 854.3,189.7 854.8,189.6 855.3,189.5 855.8,189.4 856.3,189.3 856.8,189.2 857.3,189.1 857.8,188.9 858.3,188.8 858.8,188.6 859.3,188.5 859.8,188.3 860.3,188.1 860.8,188.0 861.3,187.9 861.8,187.7 862.3,187.6 862.8,187.5 863.3,187.4 863.8,187.3 864.3,187.2 864.8,187.1 865.3,187.1 865.8,187.0 866.3,186.9 866.8,186.8 867.3,186.7 867.8,186.6 868.3,186.6 868.8,186.5 869.3,186.4 869.8,186.3 870.3,186.3 870.8,186.2 871.3,186.1 871.8,186.0 872.3,186.0 872.8,185.9 873.3,185.8 873.8,185.7 874.3,185.6 874.8,185.6 875.3,185.5 875.8,185.4 876.3,185.3 876.8,185.2 877.3,185.1 877.8,185.0 878.3,184.9 878.8,184.8 879.3,184.7 879.8,184.5 880.3,184.4 880.8,184.3 881.3,184.2 881.8,184.1 882.3,184.0 882.8,183.9 883.3,183.8 883.8,183.7 884.3,183.6 884.8,183.5 885.3,183.4 885.8,183.3 886.3,183.3 886.8,183.2 887.3,183.2 887.8,183.2 888.3,183.2 888.8,183.2 889.3,183.2 889.8,183.2 890.3,183.2 890.8,183.2 891.3,183.2 891.8,183.2 892.3,183.3 892.8,183.3 893.3,183.3 893.8,183.4 894.3,183.4 894.8,183.4 895.3,183.5 895.8,183.5 896.3,183.5 896.8,183.6 897.3,183.7 897.8,183.8 898.3,184.0 898.8,184.3 899.3,184.6 899.8,184.9 900.3,185.3 900.8,185.6 901.3,186.0 901.8,186.4 902.3,186.7 902.8,187.0 903.3,187.3 903.8,187.6 904.3,187.8 904.8,188.1 905.3,188.4 905.8,188.6 906.3,188.9 906.8,189.1 907.3,189.3 907.8,189.4 908.3,189.5 908.8,189.6 909.3,189.6 909.8,189.6 910.3,189.6 910.8,189.6 911.3,189.7 911.8,189.7 912.3,189.6 912.8,189.6 913.3,189.5 913.8,189.4 914.3,189.3 914.8,189.2 915.3,189.0 915.8,188.9 916.3,188.7 916.8,188.6 917.3,188.4 917.8,188.3 918.3,188.2 918.8,188.0 919.3,187.9 919.8,187.8 920.3,187.7 920.8,187.7 921.3,187.6 921.8,187.5 922.3,187.4 922.8,187.3 923.3,187.2" fill="none" stroke="#3d9be9" stroke-width="1.8" stroke-linejoin="round"/>
<polyline points="564.9,128.9 565.4,129.1 565.9,129.3 566.4,129.5 566.9,129.7 567.4,129.9 567.9,130.1 568.4,130.3 568.9,130.5 569.4,130.7 569.9,130.9 570.4,131.1 570.9,131.3 571.4,131.5 571.9,131.7 572.4,131.9 572.9,132.1 573.4,132.3 573.9,132.5 574.4,132.6 574.9,132.8 575.4,133.0 575.9,133.2 576.4,133.4 576.9,133.6 577.4,133.8 577.9,134.0 578.4,134.1 578.9,134.3 579.4,134.5 579.9,134.7 580.4,134.9 580.9,135.1 581.4,135.2 581.9,135.4 582.4,135.6 582.9,135.8 583.4,136.0 583.9,136.1 584.4,136.3 584.9,136.5 585.4,136.7 585.9,136.9 586.4,137.0 586.9,137.2 587.4,137.4 587.9,137.5 588.4,137.7 588.9,137.9 589.4,138.1 589.9,138.2 590.4,138.4 590.9,138.6 591.4,138.8 591.9,138.9 592.4,139.1 592.9,139.3 593.4,139.4 593.9,139.6 594.4,139.8 594.9,139.9 595.4,140.1 595.9,140.3 596.4,140.4 596.9,140.6 597.4,140.7 597.9,140.9 598.4,141.1 598.9,141.2 599.4,141.4 599.9,141.6 600.4,141.7 600.9,141.9 601.4,142.0 601.9,142.2 602.4,142.4 602.9,142.5 603.4,142.7 603.9,141.1 604.4,138.4 604.9,135.9 605.4,133.7 605.9,131.9 606.4,129.1 606.9,126.1 607.4,123.5 607.9,121.3 608.4,119.3 608.9,117.4 609.4,115.7 609.9,114.2 610.4,113.0 610.9,112.0 611.4,111.2 611.9,110.3 612.4,109.6 612.9,108.9 613.4,108.3 613.9,107.8 614.4,107.5 614.9,107.4 615.4,107.4 615.9,107.5 616.4,107.6 616.9,107.7 617.4,107.8 617.9,107.9 618.4,108.1 618.9,108.5 619.4,108.9 619.9,109.4 620.4,110.0 620.9,110.7 621.4,111.3 621.9,112.0 622.4,112.7 622.9,113.5 623.4,114.3 623.9,115.3 624.4,116.4 624.9,117.4 625.4,117.6 625.9,117.9 626.4,118.1 626.9,118.4 627.4,118.6 627.9,118.8 628.4,119.1 628.9,119.3 629.4,119.5 629.9,119.8 630.4,120.0 630.9,120.2 631.4,120.4 631.9,120.7 632.4,120.9 632.9,121.1 633.4,121.4 633.9,121.6 634.4,121.8 634.9,122.0 635.4,122.3 635.9,122.5 636.4,122.7 636.9,122.9 637.4,123.1 637.9,123.4 638.4,123.6 638.9,123.8 639.4,124.0 639.9,124.2 640.4,124.5 640.9,124.7 641.4,124.9 641.9,125.1 642.4,125.3 642.9,125.5 643.4,125.7 643.9,126.0 644.4,126.2 644.9,126.4 645.4,126.6 645.9,126.8 646.4,127.0 646.9,127.2 647.4,127.4 647.9,127.6 648.4,127.8 648.9,128.0 649.4,128.2 649.9,128.4 650.4,128.6 650.9,128.9 651.4,129.1 651.9,129.3 652.4,129.5 652.9,129.7 653.4,129.9 653.9,130.1 654.4,130.2 654.9,130.4 655.4,130.6 655.9,130.8 656.4,131.0 656.9,131.2 657.4,131.4 657.9,131.6 658.4,131.8 658.9,132.0 659.4,132.2 659.9,132.4 660.4,132.6 660.9,132.8 661.4,133.0 661.9,133.1 662.4,133.3 662.9,133.5 663.4,133.7 663.9,133.9 664.4,134.1 664.9,134.3 665.4,134.4 665.9,134.6 666.4,134.8 666.9,135.0 667.4,135.2 667.9,135.4 668.4,135.5 668.9,135.7 669.4,135.9 669.9,136.1 670.4,136.2 670.9,136.4 671.4,136.6 671.9,136.8 672.4,137.0 672.9,137.1 673.4,137.3 673.9,137.5 674.4,137.7 674.9,137.8 675.4,138.0 675.9,138.2 676.4,138.3 676.9,138.5 677.4,138.7 677.9,138.9 678.4,139.0 678.9,139.2 679.4,139.4 679.9,139.5 680.4,139.7 680.9,139.9 681.4,140.0 681.9,140.2 682.4,140.4 682.9,140.5 683.4,140.7 683.9,140.8 684.4,141.0 684.9,141.2 685.4,141.3 685.9,141.5 686.4,141.7 686.9,141.8 687.4,142.0 687.9,142.1 688.4,142.3 688.9,142.4 689.4,142.6 689.9,142.2 690.4,139.5 690.9,136.9 691.4,134.6 691.9,132.6 692.4,130.5 692.9,127.3 693.4,124.5 693.9,122.1 694.4,120.1 694.9,118.1 695.4,116.4 695.9,114.8 696.4,113.4 696.9,112.3 697.4,111.5 697.9,110.7 698.4,109.9 698.9,109.2 699.4,108.5 699.9,107.9 700.4,107.6 700.9,107.4 701.4,107.4 701.9,107.4 702.4,107.5 702.9,107.6 703.4,107.7 703.9,107.8 704.4,108.0 704.9,108.3 705.4,108.7 705.9,109.2 706.4,109.8 706.8,110.4 707.3,111.0 707.8,111.7 708.3,112.4 708.8,113.2 709.3,114.0 709.8,114.9 710.3,115.9 710.8,117.1 711.3,117.5 711.8,117.8 712.3,118.0 712.8,118.3 713.3,118.5 713.8,118.7 714.3,119.0 714.8,119.2 715.3,119.4 715.8,119.7 716.3,119.9 716.8,120.1 717.3,120.4 717.8,120.6 718.3,120.8 718.8,121.0 719.3,121.3 719.8,121.5 720.3,121.7 720.8,121.9 721.3,122.2 721.8,122.4 722.3,122.6 722.8,122.8 723.3,123.1 723.8,123.3 724.3,123.5 724.8,123.7 725.3,123.9 725.8,124.2 726.3,124.4 726.8,124.6 727.3,124.8 727.8,125.0 728.3,125.2 728.8,125.4 729.3,125.7 729.8,125.9 730.3,126.1 730.8,126.3 731.3,126.5 731.8,126.7 732.3,126.9 732.8,127.1 733.3,127.3 733.8,127.5 734.3,127.7 734.8,128.0 735.3,128.2 735.8,128.4 736.3,128.6 736.8,128.8 737.3,129.0 737.8,129.2 738.3,129.4 738.8,129.6 739.3,129.8 739.8,130.0 740.3,130.2 740.8,130.4 741.3,130.6 741.8,130.8 742.3,131.0 742.8,131.1 743.3,131.3 743.8,131.5 744.3,131.7 744.8,131.9 745.3,132.1 745.8,132.3 746.3,132.5 746.8,132.7 747.3,132.9 747.8,133.1 748.3,133.3 748.8,133.4 749.3,133.6 749.8,133.8 750.3,134.0 750.8,134.2 751.3,134.4 751.8,134.6 752.3,134.7 752.8,134.9 753.3,135.1 753.8,135.3 754.3,135.5 754.8,135.6 755.3,135.8 755.8,136.0 756.3,136.2 756.8,136.4 757.3,136.5 757.8,136.7 758.3,136.9 758.8,137.1 759.3,137.2 759.8,137.4 760.3,137.6 760.8,137.8 761.3,137.9 761.8,138.1 762.3,138.3 762.8,138.4 763.3,138.6 763.8,138.8 764.3,139.0 764.8,139.1 765.3,139.3 765.8,139.5 766.3,139.6 766.8,139.8 767.3,140.0 767.8,140.1 768.3,140.3 768.8,140.5 769.3,140.6 769.8,140.8 770.3,140.9 770.8,141.1 771.3,141.3 771.8,141.4 772.3,141.6 772.8,141.7 773.3,141.9 773.8,142.1 774.3,142.2 774.8,142.4 775.3,142.5 775.8,142.7 776.3,140.6 776.8,137.9 777.3,135.5 777.8,133.3 778.3,131.5 778.8,128.5 779.3,125.6 779.8,123.0 780.3,120.9 780.8,118.9 781.3,117.1 781.8,115.4 782.3,113.9 782.8,112.7 783.3,111.8 783.8,111.0 784.3,110.2 784.8,109.4 785.3,108.8 785.8,108.1 786.3,107.7 786.8,107.4 787.3,107.4 787.8,107.4 788.3,107.5 788.8,107.6 789.3,107.7 789.8,107.8 790.3,107.9 790.8,108.2 791.3,108.6 791.8,109.0 792.3,109.6 792.8,110.2 793.3,110.8 793.8,111.4 794.3,112.2 794.8,112.9 795.3,113.6 795.8,114.5 796.3,115.5 796.8,116.6 797.3,117.4 797.8,117.7 798.3,117.9 798.8,118.2 799.3,118.4 799.8,118.6 800.3,118.9 800.8,119.1 801.3,119.3 801.8,119.6 802.3,119.8 802.8,120.0 803.3,120.3 803.8,120.5 804.3,120.7 804.8,120.9 805.3,121.2 805.8,121.4 806.3,121.6 806.8,121.9 807.3,122.1 807.8,122.3 808.3,122.5 808.8,122.7 809.3,123.0 809.8,123.2 810.3,123.4 810.8,123.6 811.3,123.8 811.8,124.1 812.3,124.3 812.8,124.5 813.3,124.7 813.8,124.9 814.3,125.1 814.8,125.4 815.3,125.6 815.8,125.8 816.3,126.0 816.8,126.2 817.3,126.4 817.8,126.6 818.3,126.8 818.8,127.0 819.3,127.3 819.8,127.5 820.3,127.7 820.8,127.9 821.3,128.1 821.8,128.3 822.3,128.5 822.8,128.7 823.3,128.9 823.8,129.1 824.3,129.3 824.8,129.5 825.3,129.7 825.8,129.9 826.3,130.1 826.8,130.3 827.3,130.5 827.8,130.7 828.3,130.9 828.8,131.1 829.3,131.3 829.8,131.5 830.3,131.7 830.8,131.8 831.3,132.0 831.8,132.2 832.3,132.4 832.8,132.6 833.3,132.8 833.8,133.0 834.3,133.2 834.8,133.4 835.3,133.6 835.8,133.7 836.3,133.9 836.8,134.1 837.3,134.3 837.8,134.5 838.3,134.7 838.8,134.8 839.3,135.0 839.8,135.2 840.3,135.4 840.8,135.6 841.3,135.7 841.8,135.9 842.3,136.1 842.8,136.3 843.3,136.5 843.8,136.6 844.3,136.8 844.8,137.0 845.3,137.2 845.8,137.3 846.3,137.5 846.8,137.7 847.3,137.9 847.8,138.0 848.3,138.2 848.8,138.4 849.3,138.5 849.8,138.7 850.3,138.9 850.8,139.1 851.3,139.2 851.8,139.4 852.3,139.6 852.8,139.7 853.3,139.9 853.8,140.1 854.3,140.2 854.8,140.4 855.3,140.6 855.8,140.7 856.3,140.9 856.8,141.0 857.3,141.2 857.8,141.4 858.3,141.5 858.8,141.7 859.3,141.8 859.8,142.0 860.3,142.2 860.8,142.3 861.3,142.5 861.8,142.6 862.3,141.7 862.8,139.0 863.3,136.4 863.8,134.2 864.3,132.2 864.8,129.8 865.3,126.7 865.8,124.0 866.3,121.7 866.8,119.7 867.3,117.8 867.8,116.0 868.3,114.5 868.8,113.2 869.3,112.2 869.8,111.3 870.3,110.5 870.8,109.7 871.3,109.0 871.8,108.4 872.3,107.8 872.8,107.5 873.3,107.4 873.8,107.4 874.3,107.5 874.8,107.5 875.3,107.6 875.8,107.7 876.3,107.9 876.8,108.1 877.3,108.4 877.8,108.8 878.3,109.3 878.8,109.9 879.3,110.5 879.8,111.2 880.3,111.9 880.8,112.6 881.3,113.3 881.8,114.1 882.3,115.1 882.8,116.1 883.3,117.3 883.8,117.6 884.3,117.8 884.8,118.1 885.3,118.3 885.8,118.5 886.3,118.8 886.8,119.0 887.3,119.2 887.8,119.5 888.3,119.7 888.8,119.9 889.3,120.2 889.8,120.4 890.3,120.6 890.8,120.9 891.3,121.1 891.8,121.3 892.3,121.5 892.8,121.8 893.3,122.0 893.8,122.2 894.3,122.4 894.8,122.7 895.3,122.9 895.8,123.1 896.3,123.3 896.8,123.5 897.3,123.8 897.8,124.0 898.3,124.2 898.8,124.4 899.3,124.6 899.8,124.8 900.3,125.1 900.8,125.3 901.3,125.5 901.8,125.7 902.3,125.9 902.8,126.1 903.3,126.3 903.8,126.5 904.3,126.8 904.8,127.0 905.3,127.2 905.8,127.4 906.3,127.6 906.8,127.8 907.3,128.0 907.8,128.2 908.3,128.4 908.8,128.6 909.3,128.8 909.8,129.0 910.3,129.2 910.8,129.4 911.3,129.6 911.8,129.8 912.3,130.0 912.8,130.2 913.3,130.4 913.8,130.6 914.3,130.8 914.8,131.0 915.3,131.2 915.8,131.4 916.3,131.6 916.8,131.8 917.3,132.0 917.8,132.2 918.3,132.3 918.8,132.5 919.3,132.7 919.8,132.9 920.3,133.1 920.8,133.3 921.3,133.5 921.8,133.7 922.3,133.8 922.8,134.0 923.3,134.2" fill="none" stroke="#b5427a" stroke-width="1.5" stroke-linejoin="round"/>
<polyline points="564.9,188.0 565.4,188.0 565.9,187.9 566.4,187.9 566.9,187.8 567.4,187.8 567.9,187.7 568.4,187.6 568.9,187.6 569.4,187.5 569.9,187.5 570.4,187.4 570.9,187.3 571.4,187.3 571.9,187.2 572.4,187.2 572.9,187.1 573.4,187.1 573.9,187.0 574.4,187.0 574.9,186.9 575.4,186.9 575.9,186.9 576.4,186.8 576.9,186.8 577.4,186.8 577.9,186.8 578.4,186.7 578.9,186.7 579.4,186.7 579.9,186.6 580.4,186.6 580.9,186.6 581.4,186.5 581.9,186.5 582.4,186.5 582.9,186.4 583.4,186.4 583.9,186.4 584.4,186.3 584.9,186.3 585.4,186.2 585.9,186.2 586.4,186.2 586.9,186.1 587.4,186.1 587.9,186.0 588.4,186.0 588.9,185.9 589.4,185.9 589.9,185.8 590.4,185.8 590.9,185.7 591.4,185.7 591.9,185.6 592.4,185.6 592.9,185.5 593.4,185.4 593.9,185.4 594.4,185.3 594.9,185.2 595.4,185.1 595.9,184.9 596.4,184.8 596.9,184.6 597.4,184.0 597.9,183.2 598.4,182.1 598.9,180.8 599.4,178.4 599.9,175.1 600.4,171.5 600.9,167.8 601.4,163.7 601.9,159.0 602.4,153.6 602.9,147.9 603.4,142.4 603.9,136.8 604.4,132.0 604.9,128.5 605.4,125.4 605.9,122.7 606.4,120.4 606.9,118.4 607.4,116.5 607.9,114.7 608.4,113.2 608.9,111.9 609.4,110.9 609.9,110.1 610.4,109.2 610.9,108.5 611.4,107.8 611.9,107.2 612.4,106.7 612.9,106.3 613.4,106.2 613.9,106.1 614.4,106.2 614.9,106.2 615.4,106.3 615.9,106.4 616.4,106.5 616.9,106.6 617.4,106.7 617.9,106.9 618.4,107.2 618.9,107.6 619.4,108.0 619.9,108.5 620.4,109.0 620.9,109.6 621.4,110.2 621.9,110.8 622.4,111.5 622.9,112.2 623.4,113.1 623.9,114.0 624.4,115.1 624.9,116.3 625.4,117.8 625.9,119.6 626.4,121.8 626.9,124.3 627.4,127.5 627.9,131.5 628.4,136.0 628.9,140.5 629.4,144.7 629.9,148.8 630.4,152.9 630.9,156.8 631.4,160.2 631.9,163.4 632.4,166.5 632.9,169.3 633.4,171.9 633.9,174.3 634.4,176.5 634.9,178.7 635.4,180.7 635.9,182.5 636.4,183.9 636.9,184.8 637.4,185.5 637.9,186.2 638.4,186.7 638.9,187.2 639.4,187.6 639.9,187.8 640.4,187.9 640.9,188.0 641.4,188.0 641.9,188.0 642.4,188.1 642.9,188.1 643.4,188.1 643.9,188.1 644.4,188.1 644.9,188.2 645.4,188.2 645.9,188.2 646.4,188.2 646.9,188.2 647.4,188.2 647.9,188.2 648.4,188.2 648.9,188.2 649.4,188.1 649.9,188.1 650.4,188.1 650.9,188.0 651.4,188.0 651.9,187.9 652.4,187.9 652.9,187.8 653.4,187.8 653.9,187.7 654.4,187.7 654.9,187.6 655.4,187.5 655.9,187.5 656.4,187.4 656.9,187.4 657.4,187.3 657.9,187.2 658.4,187.2 658.9,187.1 659.4,187.1 659.9,187.0 660.4,187.0 660.9,186.9 661.4,186.9 661.9,186.9 662.4,186.9 662.9,186.8 663.4,186.8 663.9,186.8 664.4,186.7 664.9,186.7 665.4,186.7 665.9,186.7 666.4,186.6 666.9,186.6 667.4,186.6 667.9,186.5 668.4,186.5 668.9,186.5 669.4,186.4 669.9,186.4 670.4,186.3 670.9,186.3 671.4,186.3 671.9,186.2 672.4,186.2 672.9,186.1 673.4,186.1 673.9,186.0 674.4,186.0 674.9,185.9 675.4,185.9 675.9,185.8 676.4,185.8 676.9,185.7 677.4,185.7 677.9,185.6 678.4,185.6 678.9,185.5 679.4,185.5 679.9,185.4 680.4,185.3 680.9,185.2 681.4,185.1 681.9,185.0 682.4,184.8 682.9,184.7 683.4,184.3 683.9,183.5 684.4,182.5 684.9,181.3 685.4,179.5 685.9,176.5 686.4,172.9 686.9,169.4 687.4,165.4 687.9,161.0 688.4,155.8 688.9,150.1 689.4,144.6 689.9,139.0 690.4,133.8 690.9,129.8 691.4,126.6 691.9,123.7 692.4,121.3 692.9,119.2 693.4,117.2 693.9,115.4 694.4,113.8 694.9,112.4 695.4,111.3 695.9,110.4 696.4,109.6 696.9,108.8 697.4,108.0 697.9,107.4 698.4,106.9 698.9,106.5 699.4,106.2 699.9,106.1 700.4,106.2 700.9,106.2 701.4,106.2 701.9,106.3 702.4,106.4 702.9,106.5 703.4,106.6 703.9,106.8 704.4,107.1 704.9,107.4 705.4,107.8 705.9,108.3 706.4,108.8 706.8,109.4 707.3,109.9 707.8,110.5 708.3,111.2 708.8,111.9 709.3,112.7 709.8,113.6 710.3,114.7 710.8,115.8 711.3,117.2 711.8,118.9 712.3,120.9 712.8,123.3 713.3,126.1 713.8,129.8 714.3,134.2 714.8,138.8 715.3,143.0 715.8,147.1 716.3,151.3 716.8,155.3 717.3,158.9 717.8,162.2 718.3,165.3 718.8,168.2 719.3,170.9 719.8,173.4 720.3,175.6 720.8,177.8 721.3,179.9 721.8,181.8 722.3,183.3 722.8,184.5 723.3,185.2 723.8,185.9 724.3,186.5 724.8,187.0 725.3,187.4 725.8,187.7 726.3,187.9 726.8,187.9 727.3,188.0 727.8,188.0 728.3,188.0 728.8,188.1 729.3,188.1 729.8,188.1 730.3,188.1 730.8,188.2 731.3,188.2 731.8,188.2 732.3,188.2 732.8,188.2 733.3,188.2 733.8,188.2 734.3,188.2 734.8,188.2 735.3,188.1 735.8,188.1 736.3,188.1 736.8,188.1 737.3,188.0 737.8,188.0 738.3,187.9 738.8,187.9 739.3,187.8 739.8,187.7 740.3,187.7 740.8,187.6 741.3,187.6 741.8,187.5 742.3,187.4 742.8,187.4 743.3,187.3 743.8,187.3 744.3,187.2 744.8,187.1 745.3,187.1 745.8,187.0 746.3,187.0 746.8,187.0 747.3,186.9 747.8,186.9 748.3,186.9 748.8,186.8 749.3,186.8 749.8,186.8 750.3,186.8 750.8,186.7 751.3,186.7 751.8,186.7 752.3,186.6 752.8,186.6 753.3,186.6 753.8,186.5 754.3,186.5 754.8,186.5 755.3,186.4 755.8,186.4 756.3,186.4 756.8,186.3 757.3,186.3 757.8,186.2 758.3,186.2 758.8,186.1 759.3,186.1 759.8,186.1 760.3,186.0 760.8,186.0 761.3,185.9 761.8,185.9 762.3,185.8 762.8,185.7 763.3,185.7 763.8,185.6 764.3,185.6 764.8,185.5 765.3,185.5 765.8,185.4 766.3,185.3 766.8,185.3 767.3,185.2 767.8,185.0 768.3,184.9 768.8,184.7 769.3,184.5 769.8,183.9 770.3,183.0 770.8,181.8 771.3,180.4 771.8,177.8 772.3,174.4 772.8,170.8 773.3,167.1 773.8,162.9 774.3,158.0 774.8,152.4 775.3,146.8 775.8,141.3 776.3,135.8 776.8,131.3 777.3,127.8 777.8,124.8 778.3,122.2 778.8,120.0 779.3,118.0 779.8,116.1 780.3,114.4 780.8,112.9 781.3,111.7 781.8,110.7 782.3,109.9 782.8,109.1 783.3,108.3 783.8,107.6 784.3,107.1 784.8,106.6 785.3,106.3 785.8,106.1 786.3,106.1 786.8,106.2 787.3,106.2 787.8,106.3 788.3,106.4 788.8,106.5 789.3,106.6 789.8,106.7 790.3,107.0 790.8,107.3 791.3,107.7 791.8,108.1 792.3,108.6 792.8,109.2 793.3,109.7 793.8,110.3 794.3,110.9 794.8,111.6 795.3,112.4 795.8,113.3 796.3,114.2 796.8,115.3 797.3,116.6 797.8,118.1 798.3,120.0 798.8,122.3 799.3,124.8 799.8,128.2 800.3,132.4 800.8,136.9 801.3,141.4 801.8,145.5 802.3,149.6 802.8,153.7 803.3,157.5 803.8,160.9 804.3,164.0 804.8,167.1 805.3,169.9 805.8,172.4 806.3,174.7 806.8,176.9 807.3,179.1 807.8,181.1 808.3,182.8 808.8,184.1 809.3,184.9 809.8,185.6 810.3,186.3 810.8,186.8 811.3,187.3 811.8,187.6 812.3,187.9 812.8,187.9 813.3,188.0 813.8,188.0 814.3,188.0 814.8,188.1 815.3,188.1 815.8,188.1 816.3,188.1 816.8,188.1 817.3,188.2 817.8,188.2 818.3,188.2 818.8,188.2 819.3,188.2 819.8,188.2 820.3,188.2 820.8,188.2 821.3,188.2 821.8,188.1 822.3,188.1 822.8,188.1 823.3,188.0 823.8,188.0 824.3,187.9 824.8,187.9 825.3,187.8 825.8,187.8 826.3,187.7 826.8,187.7 827.3,187.6 827.8,187.5 828.3,187.5 828.8,187.4 829.3,187.3 829.8,187.3 830.3,187.2 830.8,187.2 831.3,187.1 831.8,187.1 832.3,187.0 832.8,187.0 833.3,186.9 833.8,186.9 834.3,186.9 834.8,186.8 835.3,186.8 835.8,186.8 836.3,186.8 836.8,186.7 837.3,186.7 837.8,186.7 838.3,186.7 838.8,186.6 839.3,186.6 839.8,186.5 840.3,186.5 840.8,186.5 841.3,186.4 841.8,186.4 842.3,186.4 842.8,186.3 843.3,186.3 843.8,186.3 844.3,186.2 844.8,186.2 845.3,186.1 845.8,186.1 846.3,186.0 846.8,186.0 847.3,185.9 847.8,185.9 848.3,185.8 848.8,185.8 849.3,185.7 849.8,185.7 850.3,185.6 850.8,185.6 851.3,185.5 851.8,185.4 852.3,185.4 852.8,185.3 853.3,185.2 853.8,185.1 854.3,185.0 854.8,184.8 855.3,184.6 855.8,184.1 856.3,183.4 856.8,182.3 857.3,181.0 857.8,179.0 858.3,175.8 858.8,172.2 859.3,168.6 859.8,164.6 860.3,160.1 860.8,154.7 861.3,149.0 861.8,143.6 862.3,137.9 862.8,132.9 863.3,129.2 863.8,126.0 864.3,123.2 864.8,120.8 865.3,118.8 865.8,116.8 866.3,115.1 866.8,113.5 867.3,112.2 867.8,111.1 868.3,110.2 868.8,109.4 869.3,108.6 869.8,107.9 870.3,107.3 870.8,106.8 871.3,106.4 871.8,106.2 872.3,106.1 872.8,106.2 873.3,106.2 873.8,106.3 874.3,106.3 874.8,106.4 875.3,106.5 875.8,106.7 876.3,106.9 876.8,107.1 877.3,107.5 877.8,107.9 878.3,108.4 878.8,108.9 879.3,109.5 879.8,110.0 880.3,110.6 880.8,111.3 881.3,112.1 881.8,112.9 882.3,113.8 882.8,114.9 883.3,116.1 883.8,117.5 884.3,119.2 884.8,121.3 885.3,123.8 885.8,126.7 886.3,130.6 886.8,135.1 887.3,139.6 887.8,143.8 888.3,147.9 888.8,152.1 889.3,156.0 889.8,159.6 890.3,162.8 890.8,165.9 891.3,168.8 891.8,171.4 892.3,173.8 892.8,176.0 893.3,178.2 893.8,180.3 894.3,182.1 894.8,183.6 895.3,184.6 895.8,185.4 896.3,186.0 896.8,186.6 897.3,187.1 897.8,187.5 898.3,187.8 898.8,187.9 899.3,187.9 899.8,188.0 900.3,188.0 900.8,188.0 901.3,188.1 901.8,188.1 902.3,188.1 902.8,188.1 903.3,188.2 903.8,188.2 904.3,188.2 904.8,188.2 905.3,188.2 905.8,188.2 906.3,188.2 906.8,188.2 907.3,188.2 907.8,188.1 908.3,188.1 908.8,188.1 909.3,188.0 909.8,188.0 910.3,188.0 910.8,187.9 911.3,187.9 911.8,187.8 912.3,187.7 912.8,187.7 913.3,187.6 913.8,187.6 914.3,187.5 914.8,187.4 915.3,187.4 915.8,187.3 916.3,187.2 916.8,187.2 917.3,187.1 917.8,187.1 918.3,187.0 918.8,187.0 919.3,187.0 919.8,186.9 920.3,186.9 920.8,186.9 921.3,186.8 921.8,186.8 922.3,186.8 922.8,186.8 923.3,186.7" fill="none" stroke="#ec1f28" stroke-width="1.5" stroke-linejoin="round"/>
<rect x="564.9" y="243.4" width="362.4" height="97.8" fill="#bdb7c5"/>
<path d="M585.0 243.4V341.2M605.2 243.4V341.2M625.3 243.4V341.2M645.4 243.4V341.2M665.6 243.4V341.2M685.7 243.4V341.2M705.8 243.4V341.2M726.0 243.4V341.2M746.1 243.4V341.2M766.2 243.4V341.2M786.4 243.4V341.2M806.5 243.4V341.2M826.6 243.4V341.2M846.8 243.4V341.2M866.9 243.4V341.2M887.0 243.4V341.2M907.2 243.4V341.2M927.3 243.4V341.2M564.9 243.4H927.3M564.9 257.4H927.3M564.9 271.3H927.3M564.9 285.3H927.3M564.9 299.3H927.3M564.9 313.3H927.3M564.9 327.2H927.3" stroke="#d0cad6" stroke-width="1" fill="none"/>
<path d="M564.9 242.8V342.2" stroke="#ffffff" stroke-width="2" fill="none"/>
<path d="M564.9 341.2H927.3" stroke="#ffffff" stroke-width="2" fill="none"/>
<polyline points="564.9,270.5 565.4,269.4 565.9,268.4 566.4,267.6 566.9,266.9 567.4,266.1 567.9,265.5 568.4,264.9 568.9,264.3 569.4,263.9 569.9,263.5 570.4,263.1 570.9,262.8 571.4,262.6 571.9,262.3 572.4,262.1 572.9,261.9 573.4,261.7 573.9,261.5 574.4,261.3 574.9,261.1 575.4,260.9 575.9,260.7 576.4,260.6 576.9,260.4 577.4,260.3 577.9,260.1 578.4,260.0 578.9,259.8 579.4,259.7 579.9,259.5 580.4,259.4 580.9,259.3 581.4,259.2 581.9,259.1 582.4,259.0 582.9,258.9 583.4,258.7 583.9,258.6 584.4,258.4 584.9,258.2 585.4,258.0 585.9,257.6 586.4,257.0 586.9,256.4 587.4,255.6 587.9,254.8 588.4,254.0 588.9,253.1 589.4,252.1 589.9,251.2 590.4,250.2 590.9,249.2 591.4,248.4 591.9,247.8 592.4,247.4 592.9,247.0 593.4,246.7 593.9,246.5 594.4,246.5 594.9,246.5 595.4,246.7 595.9,246.8 596.4,246.9 596.9,247.1 597.4,247.2 597.9,247.3 598.4,247.3 598.9,247.4 599.4,247.4 599.9,247.4 600.4,247.4 600.9,247.4 601.4,247.4 601.9,247.4 602.4,247.5 602.9,247.5 603.4,247.5 603.9,247.5 604.4,247.6 604.9,247.9 605.4,248.6 605.9,249.5 606.4,250.4 606.9,251.4 607.4,252.7 607.9,254.1 608.4,255.6 608.9,257.1 609.4,258.7 609.9,260.3 610.4,262.0 610.9,263.8 611.4,265.7 611.9,267.5 612.4,269.2 612.9,270.9 613.4,272.5 613.9,274.0 614.4,275.6 614.9,277.1 615.4,278.6 615.9,280.0 616.4,281.4 616.9,282.7 617.4,284.0 617.9,285.2 618.4,286.4 618.9,287.6 619.4,288.7 619.9,289.8 620.4,290.9 620.9,291.9 621.4,292.9 621.9,293.8 622.4,294.6 622.9,295.3 623.4,296.1 623.9,296.7 624.4,297.2 624.9,297.4 625.4,297.5 625.9,297.6 626.4,297.6 626.9,297.7 627.4,297.8 627.9,297.8 628.4,297.8 628.9,297.9 629.4,297.9 629.9,297.9 630.4,297.9 630.9,297.9 631.4,297.9 631.9,297.9 632.4,297.9 632.9,297.9 633.4,297.8 633.9,297.8 634.4,297.8 634.9,297.8 635.4,297.8 635.9,297.7 636.4,297.7 636.9,297.7 637.4,297.6 637.9,297.6 638.4,297.6 638.9,297.5 639.4,297.2 639.9,296.7 640.4,295.9 640.9,295.1 641.4,294.3 641.9,293.5 642.4,292.5 642.9,291.4 643.4,290.1 643.9,288.8 644.4,287.5 644.9,286.3 645.4,285.0 645.9,283.7 646.4,282.4 646.9,281.0 647.4,279.7 647.9,278.3 648.4,277.0 648.9,275.8 649.4,274.6 649.9,273.3 650.4,272.1 650.9,270.9 651.4,269.8 651.9,268.8 652.4,267.9 652.9,267.2 653.4,266.4 653.9,265.7 654.4,265.1 654.9,264.5 655.4,264.0 655.9,263.6 656.4,263.3 656.9,263.0 657.4,262.7 657.9,262.4 658.4,262.2 658.9,261.9 659.4,261.7 659.9,261.5 660.4,261.3 660.9,261.2 661.4,261.0 661.9,260.8 662.4,260.6 662.9,260.5 663.4,260.3 663.9,260.2 664.4,260.0 664.9,259.9 665.4,259.8 665.9,259.6 666.4,259.5 666.9,259.3 667.4,259.2 667.9,259.1 668.4,259.0 668.9,258.9 669.4,258.8 669.9,258.6 670.4,258.5 670.9,258.3 671.4,258.1 671.9,257.8 672.4,257.3 672.9,256.6 673.4,255.9 673.9,255.1 674.4,254.4 674.9,253.5 675.4,252.5 675.9,251.6 676.4,250.6 676.9,249.6 677.4,248.7 677.9,248.0 678.4,247.6 678.9,247.1 679.4,246.8 679.9,246.5 680.4,246.5 680.9,246.5 681.4,246.6 681.9,246.7 682.4,246.9 682.9,247.0 683.4,247.2 683.9,247.3 684.4,247.3 684.9,247.3 685.4,247.4 685.9,247.4 686.4,247.4 686.9,247.4 687.4,247.4 687.9,247.4 688.4,247.5 688.9,247.5 689.4,247.5 689.9,247.5 690.4,247.6 690.9,247.7 691.4,248.3 691.9,249.1 692.4,250.0 692.9,251.0 693.4,252.2 693.9,253.5 694.4,255.0 694.9,256.5 695.4,258.0 695.9,259.6 696.4,261.3 696.9,263.1 697.4,264.9 697.9,266.7 698.4,268.5 698.9,270.2 699.4,271.8 699.9,273.4 700.4,275.0 700.9,276.5 701.4,278.0 701.9,279.4 702.4,280.8 702.9,282.2 703.4,283.5 703.9,284.7 704.4,286.0 704.9,287.1 705.4,288.3 705.9,289.4 706.4,290.4 706.8,291.5 707.3,292.5 707.8,293.4 708.3,294.3 708.8,295.0 709.3,295.8 709.8,296.5 710.3,297.0 710.8,297.3 711.3,297.4 711.8,297.5 712.3,297.6 712.8,297.7 713.3,297.7 713.8,297.8 714.3,297.8 714.8,297.9 715.3,297.9 715.8,297.9 716.3,297.9 716.8,297.9 717.3,297.9 717.8,297.9 718.3,297.9 718.8,297.9 719.3,297.9 719.8,297.8 720.3,297.8 720.8,297.8 721.3,297.8 721.8,297.8 722.3,297.7 722.8,297.7 723.3,297.7 723.8,297.6 724.3,297.6 724.8,297.5 725.3,297.3 725.8,296.9 726.3,296.2 726.8,295.5 727.3,294.7 727.8,293.8 728.3,292.9 728.8,291.8 729.3,290.6 729.8,289.4 730.3,288.1 730.8,286.8 731.3,285.5 731.8,284.2 732.3,282.9 732.8,281.6 733.3,280.2 733.8,278.9 734.3,277.6 734.8,276.3 735.3,275.1 735.8,273.8 736.3,272.6 736.8,271.4 737.3,270.2 737.8,269.2 738.3,268.3 738.8,267.5 739.3,266.7 739.8,266.0 740.3,265.4 740.8,264.8 741.3,264.2 741.8,263.8 742.3,263.4 742.8,263.1 743.3,262.8 743.8,262.5 744.3,262.3 744.8,262.0 745.3,261.8 745.8,261.6 746.3,261.4 746.8,261.2 747.3,261.0 747.8,260.9 748.3,260.7 748.8,260.6 749.3,260.4 749.8,260.2 750.3,260.1 750.8,260.0 751.3,259.8 751.8,259.7 752.3,259.5 752.8,259.4 753.3,259.3 753.8,259.2 754.3,259.1 754.8,259.0 755.3,258.8 755.8,258.7 756.3,258.5 756.8,258.4 757.3,258.2 757.8,257.9 758.3,257.5 758.8,256.9 759.3,256.2 759.8,255.4 760.3,254.7 760.8,253.8 761.3,252.9 761.8,251.9 762.3,251.0 762.8,250.0 763.3,249.1 763.8,248.3 764.3,247.7 764.8,247.3 765.3,246.9 765.8,246.6 766.3,246.5 766.8,246.5 767.3,246.6 767.8,246.7 768.3,246.8 768.8,247.0 769.3,247.1 769.8,247.2 770.3,247.3 770.8,247.3 771.3,247.4 771.8,247.4 772.3,247.4 772.8,247.4 773.3,247.4 773.8,247.4 774.3,247.4 774.8,247.5 775.3,247.5 775.8,247.5 776.3,247.6 776.8,247.6 777.3,248.0 777.8,248.8 778.3,249.7 778.8,250.6 779.3,251.7 779.8,252.9 780.3,254.4 780.8,255.9 781.3,257.4 781.8,259.0 782.3,260.6 782.8,262.4 783.3,264.2 783.8,266.0 784.3,267.8 784.8,269.5 785.3,271.2 785.8,272.8 786.3,274.3 786.8,275.9 787.3,277.4 787.8,278.9 788.3,280.3 788.8,281.7 789.3,283.0 789.8,284.2 790.3,285.5 790.8,286.7 791.3,287.8 791.8,289.0 792.3,290.0 792.8,291.1 793.3,292.1 793.8,293.1 794.3,294.0 794.8,294.7 795.3,295.5 795.8,296.2 796.3,296.8 796.8,297.2 797.3,297.4 797.8,297.5 798.3,297.6 798.8,297.6 799.3,297.7 799.8,297.8 800.3,297.8 800.8,297.8 801.3,297.9 801.8,297.9 802.3,297.9 802.8,297.9 803.3,297.9 803.8,297.9 804.3,297.9 804.8,297.9 805.3,297.9 805.8,297.8 806.3,297.8 806.8,297.8 807.3,297.8 807.8,297.8 808.3,297.7 808.8,297.7 809.3,297.7 809.8,297.6 810.3,297.6 810.8,297.6 811.3,297.5 811.8,297.1 812.3,296.5 812.8,295.8 813.3,295.0 813.8,294.2 814.3,293.3 814.8,292.3 815.3,291.1 815.8,289.9 816.3,288.6 816.8,287.3 817.3,286.0 817.8,284.8 818.3,283.5 818.8,282.1 819.3,280.8 819.8,279.4 820.3,278.1 820.8,276.8 821.3,275.6 821.8,274.3 822.3,273.1 822.8,271.9 823.3,270.7 823.8,269.6 824.3,268.6 824.8,267.8 825.3,267.0 825.8,266.3 826.3,265.6 826.8,265.0 827.3,264.4 827.8,264.0 828.3,263.5 828.8,263.2 829.3,262.9 829.8,262.6 830.3,262.4 830.8,262.1 831.3,261.9 831.8,261.7 832.3,261.5 832.8,261.3 833.3,261.1 833.8,260.9 834.3,260.8 834.8,260.6 835.3,260.5 835.8,260.3 836.3,260.2 836.8,260.0 837.3,259.9 837.8,259.7 838.3,259.6 838.8,259.4 839.3,259.3 839.8,259.2 840.3,259.1 840.8,259.0 841.3,258.9 841.8,258.8 842.3,258.6 842.8,258.4 843.3,258.3 843.8,258.0 844.3,257.7 844.8,257.2 845.3,256.5 845.8,255.8 846.3,255.0 846.8,254.2 847.3,253.3 847.8,252.3 848.3,251.4 848.8,250.4 849.3,249.4 849.8,248.6 850.3,247.9 850.8,247.5 851.3,247.0 851.8,246.7 852.3,246.5 852.8,246.5 853.3,246.5 853.8,246.6 854.3,246.8 854.8,246.9 855.3,247.1 855.8,247.2 856.3,247.3 856.8,247.3 857.3,247.4 857.8,247.4 858.3,247.4 858.8,247.4 859.3,247.4 859.8,247.4 860.3,247.4 860.8,247.5 861.3,247.5 861.8,247.5 862.3,247.5 862.8,247.6 863.3,247.8 863.8,248.4 864.3,249.3 864.8,250.2 865.3,251.2 865.8,252.4 866.3,253.8 866.8,255.3 867.3,256.8 867.8,258.3 868.3,260.0 868.8,261.7 869.3,263.5 869.8,265.3 870.3,267.1 870.8,268.8 871.3,270.5 871.8,272.1 872.3,273.7 872.8,275.3 873.3,276.8 873.8,278.3 874.3,279.7 874.8,281.1 875.3,282.4 875.8,283.7 876.3,285.0 876.8,286.2 877.3,287.4 877.8,288.5 878.3,289.6 878.8,290.6 879.3,291.7 879.8,292.7 880.3,293.6 880.8,294.4 881.3,295.2 881.8,295.9 882.3,296.6 882.8,297.1 883.3,297.3 883.8,297.4 884.3,297.5 884.8,297.6 885.3,297.7 885.8,297.7 886.3,297.8 886.8,297.8 887.3,297.9 887.8,297.9 888.3,297.9 888.8,297.9 889.3,297.9 889.8,297.9 890.3,297.9 890.8,297.9 891.3,297.9 891.8,297.8 892.3,297.8 892.8,297.8 893.3,297.8 893.8,297.8 894.3,297.8 894.8,297.7 895.3,297.7 895.8,297.7 896.3,297.6 896.8,297.6 897.3,297.5 897.8,297.3 898.3,296.8 898.8,296.1 899.3,295.3 899.8,294.5 900.3,293.7 900.8,292.7 901.3,291.6 901.8,290.4 902.3,289.1 902.8,287.8 903.3,286.5 903.8,285.3 904.3,284.0 904.8,282.7 905.3,281.3 905.8,279.9 906.3,278.6 906.8,277.3 907.3,276.1 907.8,274.8 908.3,273.6 908.8,272.3 909.3,271.2 909.8,270.0 910.3,269.0 910.8,268.1 911.3,267.3 911.8,266.6 912.3,265.9 912.8,265.2 913.3,264.7 913.8,264.1 914.3,263.7 914.8,263.3 915.3,263.0 915.8,262.7 916.3,262.5 916.8,262.2 917.3,262.0 917.8,261.8 918.3,261.6 918.8,261.4 919.3,261.2 919.8,261.0 920.3,260.8 920.8,260.7 921.3,260.5 921.8,260.4 922.3,260.2 922.8,260.1 923.3,259.9" fill="none" stroke="#e82a32" stroke-width="1.6" stroke-linejoin="round"/>
<rect x="564.9" y="394.1" width="362.4" height="56.4" fill="#bdb7c5"/>
<path d="M585.0 394.1V450.5M605.2 394.1V450.5M625.3 394.1V450.5M645.4 394.1V450.5M665.6 394.1V450.5M685.7 394.1V450.5M705.8 394.1V450.5M726.0 394.1V450.5M746.1 394.1V450.5M766.2 394.1V450.5M786.4 394.1V450.5M806.5 394.1V450.5M826.6 394.1V450.5M846.8 394.1V450.5M866.9 394.1V450.5M887.0 394.1V450.5M907.2 394.1V450.5M927.3 394.1V450.5M564.9 394.1H927.3M564.9 401.2H927.3M564.9 408.2H927.3M564.9 415.2H927.3M564.9 422.3H927.3M564.9 429.4H927.3M564.9 436.4H927.3M564.9 443.4H927.3" stroke="#d0cad6" stroke-width="1" fill="none"/>
<path d="M564.9 393.5V451.5" stroke="#ffffff" stroke-width="2" fill="none"/>
<path d="M564.9 443.4H927.3" stroke="#ffffff" stroke-width="2" fill="none"/>
<polyline points="564.9,443.4 565.4,443.4 565.9,443.4 566.4,443.4 566.9,443.4 567.4,443.4 567.9,443.4 568.4,443.4 568.9,443.4 569.4,443.4 569.9,443.4 570.4,443.4 570.9,443.4 571.4,443.4 571.9,443.4 572.4,443.4 572.9,443.4 573.4,443.4 573.9,443.4 574.4,443.4 574.9,443.4 575.4,443.4 575.9,443.4 576.4,443.4 576.9,443.4 577.4,443.4 577.9,443.4 578.4,443.4 578.9,443.4 579.4,443.4 579.9,443.4 580.4,443.4 580.9,443.4 581.4,443.4 581.9,443.4 582.4,443.4 582.9,443.4 583.4,443.4 583.9,443.4 584.4,443.4 584.9,443.4 585.4,443.4 585.9,443.4 586.4,443.4 586.9,443.4 587.4,443.4 587.9,443.4 588.4,443.4 588.9,443.4 589.4,443.4 589.9,443.4 590.4,443.4 590.9,443.4 591.4,443.4 591.9,443.4 592.4,443.4 592.9,443.4 593.4,443.4 593.9,443.4 594.4,443.4 594.9,443.4 595.4,443.4 595.9,443.4 596.4,443.4 596.9,443.4 597.4,443.4 597.9,443.4 598.4,443.4 598.9,443.4 599.4,443.4 599.9,443.4 600.4,443.4 600.9,443.4 601.4,443.4 601.9,443.4 602.4,443.4 602.9,443.4 603.4,441.9 603.9,436.7 604.4,432.0 604.9,427.5 605.4,422.8 605.9,417.8 606.4,413.4 606.9,410.1 607.4,407.4 607.9,405.1 608.4,403.4 608.9,402.2 609.4,401.2 609.9,400.4 610.4,399.7 610.9,399.3 611.4,399.2 611.9,399.4 612.4,399.8 612.9,400.3 613.4,401.0 613.9,401.7 614.4,402.4 614.9,403.4 615.4,404.6 615.9,406.0 616.4,407.6 616.9,409.1 617.4,410.7 617.9,412.2 618.4,413.7 618.9,415.2 619.4,416.7 619.9,418.3 620.4,419.8 620.9,421.4 621.4,423.1 621.9,424.7 622.4,426.4 622.9,428.1 623.4,429.8 623.9,431.7 624.4,433.7 624.9,436.0 625.4,438.6 625.9,441.4 626.4,443.4 626.9,443.4 627.4,443.4 627.9,443.4 628.4,443.4 628.9,443.4 629.4,443.4 629.9,443.4 630.4,443.4 630.9,443.4 631.4,443.4 631.9,443.4 632.4,443.4 632.9,443.4 633.4,443.4 633.9,443.4 634.4,443.4 634.9,443.4 635.4,443.4 635.9,443.4 636.4,443.4 636.9,443.4 637.4,443.4 637.9,443.4 638.4,443.4 638.9,443.4 639.4,443.4 639.9,443.4 640.4,443.4 640.9,443.4 641.4,443.4 641.9,443.4 642.4,443.4 642.9,443.4 643.4,443.4 643.9,443.4 644.4,443.4 644.9,443.4 645.4,443.4 645.9,443.4 646.4,443.4 646.9,443.4 647.4,443.4 647.9,443.4 648.4,443.4 648.9,443.4 649.4,443.4 649.9,443.4 650.4,443.4 650.9,443.4 651.4,443.4 651.9,443.4 652.4,443.4 652.9,443.4 653.4,443.4 653.9,443.4 654.4,443.4 654.9,443.4 655.4,443.4 655.9,443.4 656.4,443.4 656.9,443.4 657.4,443.4 657.9,443.4 658.4,443.4 658.9,443.4 659.4,443.4 659.9,443.4 660.4,443.4 660.9,443.4 661.4,443.4 661.9,443.4 662.4,443.4 662.9,443.4 663.4,443.4 663.9,443.4 664.4,443.4 664.9,443.4 665.4,443.4 665.9,443.4 666.4,443.4 666.9,443.4 667.4,443.4 667.9,443.4 668.4,443.4 668.9,443.4 669.4,443.4 669.9,443.4 670.4,443.4 670.9,443.4 671.4,443.4 671.9,443.4 672.4,443.4 672.9,443.4 673.4,443.4 673.9,443.4 674.4,443.4 674.9,443.4 675.4,443.4 675.9,443.4 676.4,443.4 676.9,443.4 677.4,443.4 677.9,443.4 678.4,443.4 678.9,443.4 679.4,443.4 679.9,443.4 680.4,443.4 680.9,443.4 681.4,443.4 681.9,443.4 682.4,443.4 682.9,443.4 683.4,443.4 683.9,443.4 684.4,443.4 684.9,443.4 685.4,443.4 685.9,443.4 686.4,443.4 686.9,443.4 687.4,443.4 687.9,443.4 688.4,443.4 688.9,443.4 689.4,443.4 689.9,438.7 690.4,433.9 690.9,429.3 691.4,424.7 691.9,419.8 692.4,415.1 692.9,411.2 693.4,408.4 693.9,406.0 694.4,404.0 694.9,402.6 695.4,401.6 695.9,400.7 696.4,400.0 696.9,399.5 697.4,399.2 697.9,399.3 698.4,399.6 698.9,400.1 699.4,400.7 699.9,401.4 700.4,402.1 700.9,403.0 701.4,404.1 701.9,405.4 702.4,406.9 702.9,408.5 703.4,410.1 703.9,411.6 704.4,413.1 704.9,414.6 705.4,416.1 705.9,417.6 706.4,419.2 706.8,420.8 707.3,422.4 707.8,424.1 708.3,425.7 708.8,427.4 709.3,429.1 709.8,430.9 710.3,432.9 710.8,435.1 711.3,437.5 711.8,440.2 712.3,443.3 712.8,443.4 713.3,443.4 713.8,443.4 714.3,443.4 714.8,443.4 715.3,443.4 715.8,443.4 716.3,443.4 716.8,443.4 717.3,443.4 717.8,443.4 718.3,443.4 718.8,443.4 719.3,443.4 719.8,443.4 720.3,443.4 720.8,443.4 721.3,443.4 721.8,443.4 722.3,443.4 722.8,443.4 723.3,443.4 723.8,443.4 724.3,443.4 724.8,443.4 725.3,443.4 725.8,443.4 726.3,443.4 726.8,443.4 727.3,443.4 727.8,443.4 728.3,443.4 728.8,443.4 729.3,443.4 729.8,443.4 730.3,443.4 730.8,443.4 731.3,443.4 731.8,443.4 732.3,443.4 732.8,443.4 733.3,443.4 733.8,443.4 734.3,443.4 734.8,443.4 735.3,443.4 735.8,443.4 736.3,443.4 736.8,443.4 737.3,443.4 737.8,443.4 738.3,443.4 738.8,443.4 739.3,443.4 739.8,443.4 740.3,443.4 740.8,443.4 741.3,443.4 741.8,443.4 742.3,443.4 742.8,443.4 743.3,443.4 743.8,443.4 744.3,443.4 744.8,443.4 745.3,443.4 745.8,443.4 746.3,443.4 746.8,443.4 747.3,443.4 747.8,443.4 748.3,443.4 748.8,443.4 749.3,443.4 749.8,443.4 750.3,443.4 750.8,443.4 751.3,443.4 751.8,443.4 752.3,443.4 752.8,443.4 753.3,443.4 753.8,443.4 754.3,443.4 754.8,443.4 755.3,443.4 755.8,443.4 756.3,443.4 756.8,443.4 757.3,443.4 757.8,443.4 758.3,443.4 758.8,443.4 759.3,443.4 759.8,443.4 760.3,443.4 760.8,443.4 761.3,443.4 761.8,443.4 762.3,443.4 762.8,443.4 763.3,443.4 763.8,443.4 764.3,443.4 764.8,443.4 765.3,443.4 765.8,443.4 766.3,443.4 766.8,443.4 767.3,443.4 767.8,443.4 768.3,443.4 768.8,443.4 769.3,443.4 769.8,443.4 770.3,443.4 770.8,443.4 771.3,443.4 771.8,443.4 772.3,443.4 772.8,443.4 773.3,443.4 773.8,443.4 774.3,443.4 774.8,443.4 775.3,443.4 775.8,440.9 776.3,435.8 776.8,431.1 777.3,426.6 777.8,421.8 778.3,416.9 778.8,412.6 779.3,409.5 779.8,406.9 780.3,404.8 780.8,403.1 781.3,402.0 781.8,401.1 782.3,400.3 782.8,399.6 783.3,399.3 783.8,399.2 784.3,399.4 784.8,399.8 785.3,400.4 785.8,401.1 786.3,401.8 786.8,402.6 787.3,403.6 787.8,404.9 788.3,406.3 788.8,407.9 789.3,409.5 789.8,411.0 790.3,412.5 790.8,414.0 791.3,415.5 791.8,417.0 792.3,418.6 792.8,420.1 793.3,421.8 793.8,423.4 794.3,425.1 794.8,426.7 795.3,428.4 795.8,430.2 796.3,432.1 796.8,434.2 797.3,436.5 797.8,439.1 798.3,442.0 798.8,443.4 799.3,443.4 799.8,443.4 800.3,443.4 800.8,443.4 801.3,443.4 801.8,443.4 802.3,443.4 802.8,443.4 803.3,443.4 803.8,443.4 804.3,443.4 804.8,443.4 805.3,443.4 805.8,443.4 806.3,443.4 806.8,443.4 807.3,443.4 807.8,443.4 808.3,443.4 808.8,443.4 809.3,443.4 809.8,443.4 810.3,443.4 810.8,443.4 811.3,443.4 811.8,443.4 812.3,443.4 812.8,443.4 813.3,443.4 813.8,443.4 814.3,443.4 814.8,443.4 815.3,443.4 815.8,443.4 816.3,443.4 816.8,443.4 817.3,443.4 817.8,443.4 818.3,443.4 818.8,443.4 819.3,443.4 819.8,443.4 820.3,443.4 820.8,443.4 821.3,443.4 821.8,443.4 822.3,443.4 822.8,443.4 823.3,443.4 823.8,443.4 824.3,443.4 824.8,443.4 825.3,443.4 825.8,443.4 826.3,443.4 826.8,443.4 827.3,443.4 827.8,443.4 828.3,443.4 828.8,443.4 829.3,443.4 829.8,443.4 830.3,443.4 830.8,443.4 831.3,443.4 831.8,443.4 832.3,443.4 832.8,443.4 833.3,443.4 833.8,443.4 834.3,443.4 834.8,443.4 835.3,443.4 835.8,443.4 836.3,443.4 836.8,443.4 837.3,443.4 837.8,443.4 838.3,443.4 838.8,443.4 839.3,443.4 839.8,443.4 840.3,443.4 840.8,443.4 841.3,443.4 841.8,443.4 842.3,443.4 842.8,443.4 843.3,443.4 843.8,443.4 844.3,443.4 844.8,443.4 845.3,443.4 845.8,443.4 846.3,443.4 846.8,443.4 847.3,443.4 847.8,443.4 848.3,443.4 848.8,443.4 849.3,443.4 849.8,443.4 850.3,443.4 850.8,443.4 851.3,443.4 851.8,443.4 852.3,443.4 852.8,443.4 853.3,443.4 853.8,443.4 854.3,443.4 854.8,443.4 855.3,443.4 855.8,443.4 856.3,443.4 856.8,443.4 857.3,443.4 857.8,443.4 858.3,443.4 858.8,443.4 859.3,443.4 859.8,443.4 860.3,443.4 860.8,443.4 861.3,443.4 861.8,443.1 862.3,437.7 862.8,433.0 863.3,428.4 863.8,423.8 864.3,418.8 864.8,414.2 865.3,410.6 865.8,407.9 866.3,405.6 866.8,403.7 867.3,402.4 867.8,401.4 868.3,400.6 868.8,399.9 869.3,399.4 869.8,399.2 870.3,399.3 870.8,399.7 871.3,400.2 871.8,400.8 872.3,401.5 872.8,402.3 873.3,403.2 873.8,404.3 874.3,405.7 874.8,407.2 875.3,408.8 875.8,410.4 876.3,411.9 876.8,413.4 877.3,414.9 877.8,416.4 878.3,417.9 878.8,419.5 879.3,421.1 879.8,422.7 880.3,424.4 880.8,426.1 881.3,427.7 881.8,429.4 882.3,431.3 882.8,433.3 883.3,435.5 883.8,438.0 884.3,440.8 884.8,443.4 885.3,443.4 885.8,443.4 886.3,443.4 886.8,443.4 887.3,443.4 887.8,443.4 888.3,443.4 888.8,443.4 889.3,443.4 889.8,443.4 890.3,443.4 890.8,443.4 891.3,443.4 891.8,443.4 892.3,443.4 892.8,443.4 893.3,443.4 893.8,443.4 894.3,443.4 894.8,443.4 895.3,443.4 895.8,443.4 896.3,443.4 896.8,443.4 897.3,443.4 897.8,443.4 898.3,443.4 898.8,443.4 899.3,443.4 899.8,443.4 900.3,443.4 900.8,443.4 901.3,443.4 901.8,443.4 902.3,443.4 902.8,443.4 903.3,443.4 903.8,443.4 904.3,443.4 904.8,443.4 905.3,443.4 905.8,443.4 906.3,443.4 906.8,443.4 907.3,443.4 907.8,443.4 908.3,443.4 908.8,443.4 909.3,443.4 909.8,443.4 910.3,443.4 910.8,443.4 911.3,443.4 911.8,443.4 912.3,443.4 912.8,443.4 913.3,443.4 913.8,443.4 914.3,443.4 914.8,443.4 915.3,443.4 915.8,443.4 916.3,443.4 916.8,443.4 917.3,443.4 917.8,443.4 918.3,443.4 918.8,443.4 919.3,443.4 919.8,443.4 920.3,443.4 920.8,443.4 921.3,443.4 921.8,443.4 922.3,443.4 922.8,443.4 923.3,443.4" fill="none" stroke="#9a982c" stroke-width="1.8" stroke-linejoin="round"/>
<polyline points="564.9,428.2 565.4,429.5 565.9,430.9 566.4,432.2 566.9,433.4 567.4,434.5 567.9,435.5 568.4,436.3 568.9,437.1 569.4,437.9 569.9,438.5 570.4,439.1 570.9,439.5 571.4,439.8 571.9,440.0 572.4,440.2 572.9,440.4 573.4,440.6 573.9,440.7 574.4,440.8 574.9,440.8 575.4,440.8 575.9,440.8 576.4,440.8 576.9,440.7 577.4,440.7 577.9,440.6 578.4,440.6 578.9,440.5 579.4,440.5 579.9,440.4 580.4,440.4 580.9,440.3 581.4,440.3 581.9,440.2 582.4,440.2 582.9,440.0 583.4,439.6 583.9,438.9 584.4,438.1 584.9,437.1 585.4,435.7 585.9,433.8 586.4,431.9 586.9,430.2 587.4,429.1 587.9,428.1 588.4,427.2 588.9,426.7 589.4,426.5 589.9,427.0 590.4,427.8 590.9,428.8 591.4,430.5 591.9,433.4 592.4,436.2 592.9,438.4 593.4,440.3 593.9,441.8 594.4,442.8 594.9,443.6 595.4,444.2 595.9,444.5 596.4,444.7 596.9,444.8 597.4,444.9 597.9,444.7 598.4,444.4 598.9,444.0 599.4,443.8 599.9,443.7 600.4,443.5 600.9,443.5 601.4,443.4 601.9,443.4 602.4,443.4 602.9,443.4 603.4,443.4 603.9,443.4 604.4,443.4 604.9,443.4 605.4,443.4 605.9,443.4 606.4,443.4 606.9,443.4 607.4,443.4 607.9,443.4 608.4,443.4 608.9,443.4 609.4,443.4 609.9,443.4 610.4,443.4 610.9,443.4 611.4,443.4 611.9,443.4 612.4,443.4 612.9,443.4 613.4,443.4 613.9,443.4 614.4,443.4 614.9,443.4 615.4,443.4 615.9,443.4 616.4,443.4 616.9,443.4 617.4,443.4 617.9,443.4 618.4,443.4 618.9,443.4 619.4,443.4 619.9,443.4 620.4,443.4 620.9,443.4 621.4,443.4 621.9,443.4 622.4,443.4 622.9,443.4 623.4,443.4 623.9,443.4 624.4,443.4 624.9,443.4 625.4,443.4 625.9,443.4 626.4,443.4 626.9,443.4 627.4,443.4 627.9,443.4 628.4,443.4 628.9,443.4 629.4,443.4 629.9,443.4 630.4,443.4 630.9,443.4 631.4,443.4 631.9,443.4 632.4,443.4 632.9,443.4 633.4,443.4 633.9,443.4 634.4,443.4 634.9,443.4 635.4,443.4 635.9,443.4 636.4,443.4 636.9,443.4 637.4,443.4 637.9,443.4 638.4,442.8 638.9,441.4 639.4,439.7 639.9,437.9 640.4,436.2 640.9,434.3 641.4,432.2 641.9,430.1 642.4,428.1 642.9,426.3 643.4,424.5 643.9,422.7 644.4,421.4 644.9,420.5 645.4,419.9 645.9,419.4 646.4,419.1 646.9,419.3 647.4,419.8 647.9,420.5 648.4,421.3 648.9,422.4 649.4,423.7 649.9,425.1 650.4,426.3 650.9,427.6 651.4,429.0 651.9,430.3 652.4,431.7 652.9,432.9 653.4,434.1 653.9,435.1 654.4,436.0 654.9,436.8 655.4,437.6 655.9,438.3 656.4,438.9 656.9,439.4 657.4,439.7 657.9,439.9 658.4,440.1 658.9,440.3 659.4,440.5 659.9,440.6 660.4,440.7 660.9,440.8 661.4,440.8 661.9,440.8 662.4,440.8 662.9,440.7 663.4,440.7 663.9,440.7 664.4,440.6 664.9,440.6 665.4,440.5 665.9,440.5 666.4,440.4 666.9,440.4 667.4,440.3 667.9,440.3 668.4,440.2 668.9,440.1 669.4,439.8 669.9,439.2 670.4,438.4 670.9,437.5 671.4,436.3 671.9,434.6 672.4,432.6 672.9,430.8 673.4,429.5 673.9,428.5 674.4,427.6 674.9,426.9 675.4,426.5 675.9,426.7 676.4,427.4 676.9,428.4 677.4,429.7 677.9,432.2 678.4,435.1 678.9,437.5 679.4,439.6 679.9,441.3 680.4,442.4 680.9,443.3 681.4,444.0 681.9,444.5 682.4,444.6 682.9,444.8 683.4,444.9 683.9,444.8 684.4,444.5 684.9,444.2 685.4,443.9 685.9,443.7 686.4,443.6 686.9,443.5 687.4,443.5 687.9,443.4 688.4,443.4 688.9,443.4 689.4,443.4 689.9,443.4 690.4,443.4 690.9,443.4 691.4,443.4 691.9,443.4 692.4,443.4 692.9,443.4 693.4,443.4 693.9,443.4 694.4,443.4 694.9,443.4 695.4,443.4 695.9,443.4 696.4,443.4 696.9,443.4 697.4,443.4 697.9,443.4 698.4,443.4 698.9,443.4 699.4,443.4 699.9,443.4 700.4,443.4 700.9,443.4 701.4,443.4 701.9,443.4 702.4,443.4 702.9,443.4 703.4,443.4 703.9,443.4 704.4,443.4 704.9,443.4 705.4,443.4 705.9,443.4 706.4,443.4 706.8,443.4 707.3,443.4 707.8,443.4 708.3,443.4 708.8,443.4 709.3,443.4 709.8,443.4 710.3,443.4 710.8,443.4 711.3,443.4 711.8,443.4 712.3,443.4 712.8,443.4 713.3,443.4 713.8,443.4 714.3,443.4 714.8,443.4 715.3,443.4 715.8,443.4 716.3,443.4 716.8,443.4 717.3,443.4 717.8,443.4 718.3,443.4 718.8,443.4 719.3,443.4 719.8,443.4 720.3,443.4 720.8,443.4 721.3,443.4 721.8,443.4 722.3,443.4 722.8,443.4 723.3,443.4 723.8,443.4 724.3,443.1 724.8,442.0 725.3,440.4 725.8,438.6 726.3,436.9 726.8,435.0 727.3,433.0 727.8,430.9 728.3,428.9 728.8,427.0 729.3,425.2 729.8,423.4 730.3,421.8 730.8,420.8 731.3,420.1 731.8,419.5 732.3,419.2 732.8,419.2 733.3,419.6 733.8,420.2 734.3,420.9 734.8,421.9 735.3,423.1 735.8,424.5 736.3,425.8 736.8,427.1 737.3,428.4 737.8,429.8 738.3,431.1 738.8,432.4 739.3,433.6 739.8,434.7 740.3,435.7 740.8,436.5 741.3,437.3 741.8,438.0 742.3,438.7 742.8,439.2 743.3,439.5 743.8,439.8 744.3,440.0 744.8,440.2 745.3,440.4 745.8,440.6 746.3,440.7 746.8,440.8 747.3,440.8 747.8,440.8 748.3,440.8 748.8,440.8 749.3,440.7 749.8,440.7 750.3,440.6 750.8,440.6 751.3,440.5 751.8,440.5 752.3,440.4 752.8,440.4 753.3,440.3 753.8,440.3 754.3,440.2 754.8,440.1 755.3,440.0 755.8,439.5 756.3,438.8 756.8,437.9 757.3,436.9 757.8,435.3 758.3,433.4 758.8,431.5 759.3,429.9 759.8,428.9 760.3,427.9 760.8,427.1 761.3,426.6 761.8,426.6 762.3,427.1 762.8,428.0 763.3,429.0 763.8,431.0 764.3,433.9 764.8,436.7 765.3,438.8 765.8,440.7 766.3,442.0 766.8,443.0 767.3,443.8 767.8,444.3 768.3,444.6 768.8,444.7 769.3,444.8 769.8,444.9 770.3,444.7 770.8,444.3 771.3,444.0 771.8,443.8 772.3,443.6 772.8,443.5 773.3,443.5 773.8,443.4 774.3,443.4 774.8,443.4 775.3,443.4 775.8,443.4 776.3,443.4 776.8,443.4 777.3,443.4 777.8,443.4 778.3,443.4 778.8,443.4 779.3,443.4 779.8,443.4 780.3,443.4 780.8,443.4 781.3,443.4 781.8,443.4 782.3,443.4 782.8,443.4 783.3,443.4 783.8,443.4 784.3,443.4 784.8,443.4 785.3,443.4 785.8,443.4 786.3,443.4 786.8,443.4 787.3,443.4 787.8,443.4 788.3,443.4 788.8,443.4 789.3,443.4 789.8,443.4 790.3,443.4 790.8,443.4 791.3,443.4 791.8,443.4 792.3,443.4 792.8,443.4 793.3,443.4 793.8,443.4 794.3,443.4 794.8,443.4 795.3,443.4 795.8,443.4 796.3,443.4 796.8,443.4 797.3,443.4 797.8,443.4 798.3,443.4 798.8,443.4 799.3,443.4 799.8,443.4 800.3,443.4 800.8,443.4 801.3,443.4 801.8,443.4 802.3,443.4 802.8,443.4 803.3,443.4 803.8,443.4 804.3,443.4 804.8,443.4 805.3,443.4 805.8,443.4 806.3,443.4 806.8,443.4 807.3,443.4 807.8,443.4 808.3,443.4 808.8,443.4 809.3,443.4 809.8,443.4 810.3,443.4 810.8,442.6 811.3,441.1 811.8,439.3 812.3,437.5 812.8,435.8 813.3,433.9 813.8,431.8 814.3,429.7 814.8,427.7 815.3,425.9 815.8,424.1 816.3,422.4 816.8,421.2 817.3,420.4 817.8,419.7 818.3,419.3 818.8,419.1 819.3,419.4 819.8,419.9 820.3,420.6 820.8,421.4 821.3,422.6 821.8,424.0 822.3,425.3 822.8,426.6 823.3,427.9 823.8,429.2 824.3,430.6 824.8,431.9 825.3,433.2 825.8,434.3 826.3,435.3 826.8,436.2 827.3,437.0 827.8,437.7 828.3,438.4 828.8,439.0 829.3,439.4 829.8,439.7 830.3,439.9 830.8,440.2 831.3,440.4 831.8,440.5 832.3,440.7 832.8,440.7 833.3,440.8 833.8,440.8 834.3,440.8 834.8,440.8 835.3,440.7 835.8,440.7 836.3,440.7 836.8,440.6 837.3,440.6 837.8,440.5 838.3,440.4 838.8,440.4 839.3,440.4 839.8,440.3 840.3,440.3 840.8,440.2 841.3,440.1 841.8,439.7 842.3,439.1 842.8,438.3 843.3,437.3 843.8,436.0 844.3,434.2 844.8,432.3 845.3,430.5 845.8,429.3 846.3,428.3 846.8,427.4 847.3,426.8 847.8,426.5 848.3,426.8 848.8,427.6 849.3,428.6 849.8,430.1 850.3,432.7 850.8,435.7 851.3,437.9 851.8,439.9 852.3,441.6 852.8,442.6 853.3,443.5 853.8,444.1 854.3,444.5 854.8,444.7 855.3,444.8 855.8,444.9 856.3,444.8 856.8,444.5 857.3,444.1 857.8,443.8 858.3,443.7 858.8,443.6 859.3,443.5 859.8,443.5 860.3,443.4 860.8,443.4 861.3,443.4 861.8,443.4 862.3,443.4 862.8,443.4 863.3,443.4 863.8,443.4 864.3,443.4 864.8,443.4 865.3,443.4 865.8,443.4 866.3,443.4 866.8,443.4 867.3,443.4 867.8,443.4 868.3,443.4 868.8,443.4 869.3,443.4 869.8,443.4 870.3,443.4 870.8,443.4 871.3,443.4 871.8,443.4 872.3,443.4 872.8,443.4 873.3,443.4 873.8,443.4 874.3,443.4 874.8,443.4 875.3,443.4 875.8,443.4 876.3,443.4 876.8,443.4 877.3,443.4 877.8,443.4 878.3,443.4 878.8,443.4 879.3,443.4 879.8,443.4 880.3,443.4 880.8,443.4 881.3,443.4 881.8,443.4 882.3,443.4 882.8,443.4 883.3,443.4 883.8,443.4 884.3,443.4 884.8,443.4 885.3,443.4 885.8,443.4 886.3,443.4 886.8,443.4 887.3,443.4 887.8,443.4 888.3,443.4 888.8,443.4 889.3,443.4 889.8,443.4 890.3,443.4 890.8,443.4 891.3,443.4 891.8,443.4 892.3,443.4 892.8,443.4 893.3,443.4 893.8,443.4 894.3,443.4 894.8,443.4 895.3,443.4 895.8,443.4 896.3,443.4 896.8,443.0 897.3,441.7 897.8,440.1 898.3,438.2 898.8,436.5 899.3,434.7 899.8,432.6 900.3,430.5 900.8,428.5 901.3,426.7 901.8,424.8 902.3,423.1 902.8,421.6 903.3,420.7 903.8,420.0 904.3,419.4 904.8,419.2 905.3,419.2 905.8,419.7 906.3,420.3 906.8,421.1 907.3,422.1 907.8,423.4 908.3,424.8 908.8,426.1 909.3,427.4 909.8,428.7 910.3,430.1 910.8,431.4 911.3,432.7 911.8,433.9 912.3,434.9 912.8,435.8 913.3,436.6 913.8,437.4 914.3,438.2 914.8,438.8 915.3,439.3 915.8,439.6 916.3,439.8 916.8,440.1 917.3,440.3 917.8,440.5 918.3,440.6 918.8,440.7 919.3,440.8 919.8,440.8 920.3,440.8 920.8,440.8 921.3,440.7 921.8,440.7 922.3,440.7 922.8,440.6 923.3,440.6" fill="none" stroke="#2a882c" stroke-width="1.8" stroke-linejoin="round"/>
<text x="0" y="0" font-size="20.4" font-weight="bold" fill="#000" stroke="#000" stroke-width="0.5" text-anchor="start" style="font-family:'Liberation Sans'" textLength="136.4" lengthAdjust="spacing" transform="translate(121.8 63.6) scale(0.860 1)">REFERENCE</text>
<text x="0" y="0" font-size="20.4" font-weight="bold" fill="#000" stroke="#000" stroke-width="0.5" text-anchor="start" style="font-family:'Liberation Sans'" textLength="126.5" lengthAdjust="spacing" transform="translate(344.6 63.8) scale(0.860 1)">SNAPSHOT</text>
<text x="0" y="0" font-size="20.4" font-weight="bold" fill="#000" stroke="#000" stroke-width="0.5" text-anchor="start" style="font-family:'Liberation Sans'" textLength="114.3" lengthAdjust="spacing" transform="translate(676.8 63.7) scale(0.860 1)">CURRENT</text>
<text x="0" y="0" font-size="20.3" font-weight="bold" text-anchor="middle" fill="#000" stroke="#000" stroke-width="0.35" style="font-family:'Liberation Sans',sans-serif" textLength="83.3" lengthAdjust="spacingAndGlyphs" transform="translate(61.7 150.0) rotate(-90)">Pressure</text>
<text x="0" y="0" font-size="20.8" font-weight="bold" text-anchor="middle" fill="#000" stroke="#000" stroke-width="0.35" style="font-family:'Liberation Sans',sans-serif" textLength="77.8" lengthAdjust="spacingAndGlyphs" transform="translate(89.6 150.0) rotate(-90)">[mmHg]</text>
<text x="0" y="0" font-size="20.3" font-weight="bold" text-anchor="middle" fill="#000" stroke="#000" stroke-width="0.35" style="font-family:'Liberation Sans',sans-serif" textLength="117.2" lengthAdjust="spacingAndGlyphs" transform="translate(61.8 301.5) rotate(-90)">Volume [ml]</text>
<text x="0" y="0" font-size="20.3" font-weight="bold" text-anchor="middle" fill="#000" stroke="#000" stroke-width="0.35" style="font-family:'Liberation Sans',sans-serif" textLength="123.0" lengthAdjust="spacingAndGlyphs" transform="translate(62.0 450.5) rotate(-90)">Flow velocity</text>
<text x="128.0" y="144.0" font-size="24.0" font-weight="bold" text-anchor="end" fill="#333333" style="font-family:'Liberation Sans',sans-serif" stroke="#333" stroke-width="0.35">80</text>
<text x="128.0" y="199.8" font-size="24.0" font-weight="bold" text-anchor="end" fill="#333333" style="font-family:'Liberation Sans',sans-serif" stroke="#333" stroke-width="0.35">0</text>
<text x="128.0" y="294.4" font-size="24.0" font-weight="bold" text-anchor="end" fill="#333333" style="font-family:'Liberation Sans',sans-serif" stroke="#333" stroke-width="0.35">80</text>
<text x="128.0" y="350.3" font-size="24.0" font-weight="bold" text-anchor="end" fill="#333333" style="font-family:'Liberation Sans',sans-serif" stroke="#333" stroke-width="0.35">0</text>
<text x="128.0" y="417.3" font-size="24.0" font-weight="bold" text-anchor="end" fill="#333333" style="font-family:'Liberation Sans',sans-serif" stroke="#333" stroke-width="0.35">1</text>
<text x="128.0" y="459.6" font-size="24.0" font-weight="bold" text-anchor="end" fill="#333333" style="font-family:'Liberation Sans',sans-serif" stroke="#333" stroke-width="0.35">-0.2</text>
<text x="345.3" y="144.0" font-size="24.0" font-weight="bold" text-anchor="end" fill="#333333" style="font-family:'Liberation Sans',sans-serif" stroke="#333" stroke-width="0.35">80</text>
<text x="345.3" y="199.8" font-size="24.0" font-weight="bold" text-anchor="end" fill="#333333" style="font-family:'Liberation Sans',sans-serif" stroke="#333" stroke-width="0.35">0</text>
<text x="345.3" y="294.4" font-size="24.0" font-weight="bold" text-anchor="end" fill="#333333" style="font-family:'Liberation Sans',sans-serif" stroke="#333" stroke-width="0.35">80</text>
<text x="345.3" y="350.3" font-size="24.0" font-weight="bold" text-anchor="end" fill="#333333" style="font-family:'Liberation Sans',sans-serif" stroke="#333" stroke-width="0.35">0</text>
<text x="345.3" y="417.3" font-size="24.0" font-weight="bold" text-anchor="end" fill="#333333" style="font-family:'Liberation Sans',sans-serif" stroke="#333" stroke-width="0.35">1</text>
<text x="345.3" y="459.6" font-size="24.0" font-weight="bold" text-anchor="end" fill="#333333" style="font-family:'Liberation Sans',sans-serif" stroke="#333" stroke-width="0.35">-0.2</text>
<text x="562.8" y="144.0" font-size="24.0" font-weight="bold" text-anchor="end" fill="#333333" style="font-family:'Liberation Sans',sans-serif" stroke="#333" stroke-width="0.35">80</text>
<text x="562.8" y="199.8" font-size="24.0" font-weight="bold" text-anchor="end" fill="#333333" style="font-family:'Liberation Sans',sans-serif" stroke="#333" stroke-width="0.35">0</text>
<text x="562.8" y="294.4" font-size="24.0" font-weight="bold" text-anchor="end" fill="#333333" style="font-family:'Liberation Sans',sans-serif" stroke="#333" stroke-width="0.35">80</text>
<text x="562.8" y="350.3" font-size="24.0" font-weight="bold" text-anchor="end" fill="#333333" style="font-family:'Liberation Sans',sans-serif" stroke="#333" stroke-width="0.35">0</text>
<text x="562.8" y="417.3" font-size="24.0" font-weight="bold" text-anchor="end" fill="#333333" style="font-family:'Liberation Sans',sans-serif" stroke="#333" stroke-width="0.35">1</text>
<text x="562.8" y="459.6" font-size="24.0" font-weight="bold" text-anchor="end" fill="#333333" style="font-family:'Liberation Sans',sans-serif" stroke="#333" stroke-width="0.35">-0.2</text>
<text x="175.7" y="475.6" font-size="23.5" font-weight="bold" text-anchor="middle" fill="#333333" style="font-family:'Liberation Sans',sans-serif" >0.4</text>
<text x="224.0" y="475.6" font-size="23.5" font-weight="bold" text-anchor="middle" fill="#333333" style="font-family:'Liberation Sans',sans-serif" >0.8</text>
<text x="272.2" y="475.6" font-size="23.5" font-weight="bold" text-anchor="middle" fill="#333333" style="font-family:'Liberation Sans',sans-serif" >1.2</text>
<text x="377.8" y="475.6" font-size="23.5" font-weight="bold" text-anchor="middle" fill="#333333" style="font-family:'Liberation Sans',sans-serif" >0.4</text>
<text x="441.8" y="475.6" font-size="23.5" font-weight="bold" text-anchor="middle" fill="#333333" style="font-family:'Liberation Sans',sans-serif" >1.2</text>
<text x="604.0" y="475.6" font-size="23.5" font-weight="bold" text-anchor="middle" fill="#333333" style="font-family:'Liberation Sans',sans-serif" >0.4</text>
<text x="644.2" y="475.6" font-size="23.5" font-weight="bold" text-anchor="middle" fill="#333333" style="font-family:'Liberation Sans',sans-serif" >0.8</text>
<text x="684.5" y="475.6" font-size="23.5" font-weight="bold" text-anchor="middle" fill="#333333" style="font-family:'Liberation Sans',sans-serif" >1.2</text>
<text x="724.8" y="475.6" font-size="23.5" font-weight="bold" text-anchor="middle" fill="#333333" style="font-family:'Liberation Sans',sans-serif" >1.6</text>
<text x="765.0" y="475.6" font-size="23.5" font-weight="bold" text-anchor="middle" fill="#333333" style="font-family:'Liberation Sans',sans-serif" >2</text>
<text x="805.3" y="475.6" font-size="23.5" font-weight="bold" text-anchor="middle" fill="#333333" style="font-family:'Liberation Sans',sans-serif" >2.4</text>
<text x="845.6" y="475.6" font-size="23.5" font-weight="bold" text-anchor="middle" fill="#333333" style="font-family:'Liberation Sans',sans-serif" >2.8</text>
<text x="885.8" y="475.6" font-size="23.5" font-weight="bold" text-anchor="middle" fill="#333333" style="font-family:'Liberation Sans',sans-serif" >3.2</text>
<text x="926.1" y="475.6" font-size="23.5" font-weight="bold" text-anchor="middle" fill="#333333" style="font-family:'Liberation Sans',sans-serif" >3.6</text>
<text x="0" y="0" font-size="30.8" font-weight="bold" fill="#333333" text-anchor="start" style="font-family:'Liberation Sans'" textLength="119.5" lengthAdjust="spacing" transform="translate(174.5 515.2) scale(0.950 1)">Time [s]</text>
<text x="0" y="0" font-size="30.8" font-weight="bold" fill="#333333" text-anchor="start" style="font-family:'Liberation Sans'" textLength="119.5" lengthAdjust="spacing" transform="translate(392.7 515.2) scale(0.950 1)">Time [s]</text>
<text x="0" y="0" font-size="30.8" font-weight="bold" fill="#333333" text-anchor="start" style="font-family:'Liberation Sans'" textLength="119.5" lengthAdjust="spacing" transform="translate(828.7 515.2) scale(0.950 1)">Time [s]</text>
<text x="320.6" y="571.7" font-size="26" fill="#000" style="font-family:'Liberation Serif'" textLength="74.5" lengthAdjust="spacingAndGlyphs">Figure</text>
<text x="403.0" y="571.7" font-size="26" fill="#000" style="font-family:'Liberation Serif'" textLength="19.0" lengthAdjust="spacingAndGlyphs">9:</text>
<text x="435.2" y="571.7" font-size="26" fill="#000" style="font-family:'Liberation Serif'" textLength="71.8" lengthAdjust="spacingAndGlyphs">Mitral</text>
<text x="515.8" y="571.7" font-size="26" fill="#000" style="font-family:'Liberation Serif'" textLength="57.5" lengthAdjust="spacingAndGlyphs">valve</text>
<text x="582.6" y="571.7" font-size="26" fill="#000" style="font-family:'Liberation Serif'" textLength="77.0" lengthAdjust="spacingAndGlyphs">closing</text>
</svg>

</body></html>
